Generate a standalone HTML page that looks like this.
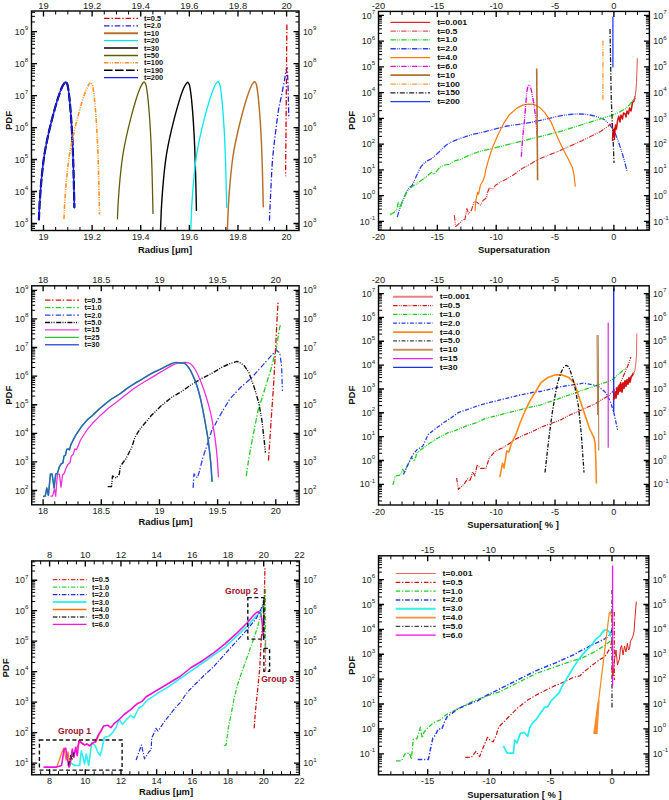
<!DOCTYPE html>
<html><head><meta charset="utf-8"><style>
html,body{margin:0;padding:0;background:#fff;}
svg{display:block;font-family:"Liberation Sans", sans-serif;}
</style></head><body>
<svg width="669" height="800" viewBox="0 0 669 800">
<rect width="669" height="800" fill="#fff"/>
<defs><clipPath id="c1"><rect x="31.5" y="11.0" width="267.50" height="219.50"/></clipPath><clipPath id="c2"><rect x="378.5" y="11.4" width="270.90" height="218.80"/></clipPath><clipPath id="c3"><rect x="31.7" y="285.8" width="267.40" height="219.00"/></clipPath><clipPath id="c4"><rect x="378.5" y="285.8" width="270.70" height="219.20"/></clipPath><clipPath id="c5"><rect x="31.7" y="560.9" width="267.70" height="213.90"/></clipPath><clipPath id="c6"><rect x="378.5" y="555.8" width="270.30" height="219.00"/></clipPath></defs>
<g clip-path="url(#c1)">
<path d="M38.89 220.30C39.01 217.63 39.18 210.97 39.60 204.30C40.02 197.63 40.67 188.13 41.40 180.30C42.13 172.47 42.98 164.30 44.00 157.30C45.02 150.30 46.17 144.63 47.50 138.30C48.83 131.97 50.42 125.47 52.00 119.30C53.58 113.13 55.42 106.47 57.00 101.30C58.58 96.13 60.17 91.47 61.50 88.30C62.83 85.13 64.17 83.20 65.00 82.30C65.83 81.40 66.07 82.40 66.50 82.90C66.93 83.40 67.18 83.40 67.60 85.30C68.02 87.20 68.57 90.80 69.00 94.30C69.43 97.80 69.80 101.63 70.20 106.30C70.60 110.97 71.00 115.97 71.40 122.30C71.80 128.63 72.23 135.63 72.60 144.30C72.97 152.97 73.32 164.30 73.60 174.30C73.88 184.30 74.18 198.93 74.30 204.30C74.42 209.67 74.33 206.13 74.34 206.50" stroke="#000" stroke-width="2.2" fill="none" stroke-linejoin="round" stroke-dasharray="8.6 2.4"/>
<path d="M38.89 220.30C39.01 217.63 39.18 210.97 39.60 204.30C40.02 197.63 40.67 188.13 41.40 180.30C42.13 172.47 42.98 164.30 44.00 157.30C45.02 150.30 46.17 144.63 47.50 138.30C48.83 131.97 50.42 125.47 52.00 119.30C53.58 113.13 55.42 106.47 57.00 101.30C58.58 96.13 60.17 91.47 61.50 88.30C62.83 85.13 64.17 83.20 65.00 82.30C65.83 81.40 66.07 82.40 66.50 82.90C66.93 83.40 67.18 83.40 67.60 85.30C68.02 87.20 68.57 90.80 69.00 94.30C69.43 97.80 69.80 101.63 70.20 106.30C70.60 110.97 71.00 115.97 71.40 122.30C71.80 128.63 72.23 135.63 72.60 144.30C72.97 152.97 73.32 164.30 73.60 174.30C73.88 184.30 74.18 198.93 74.30 204.30C74.42 209.67 74.33 206.13 74.34 206.50" stroke="#1a1aff" stroke-width="1.5" fill="none" stroke-linejoin="round"/>
<path d="M63.98 219.00C64.08 216.67 64.20 211.33 64.60 205.00C65.00 198.67 65.67 188.83 66.40 181.00C67.13 173.17 67.98 165.00 69.00 158.00C70.02 151.00 71.17 145.33 72.50 139.00C73.83 132.67 75.42 126.17 77.00 120.00C78.58 113.83 80.42 107.17 82.00 102.00C83.58 96.83 85.17 92.17 86.50 89.00C87.83 85.83 89.17 83.90 90.00 83.00C90.83 82.10 91.07 83.10 91.50 83.60C91.93 84.10 92.18 84.10 92.60 86.00C93.02 87.90 93.57 91.50 94.00 95.00C94.43 98.50 94.80 102.33 95.20 107.00C95.60 111.67 96.00 116.67 96.40 123.00C96.80 129.33 97.23 136.33 97.60 145.00C97.97 153.67 98.32 165.00 98.60 175.00C98.88 185.00 99.15 198.40 99.30 205.00C99.45 211.60 99.44 213.00 99.47 214.60" stroke="#ff9028" stroke-width="1.6" fill="none" stroke-linejoin="round" stroke-dasharray="4.5 1.3 1 1.3 1 1.3"/>
<path d="M117.44 219.20C117.55 216.72 117.69 210.78 118.10 204.30C118.51 197.82 119.17 188.13 119.90 180.30C120.63 172.47 121.48 164.30 122.50 157.30C123.52 150.30 124.67 144.63 126.00 138.30C127.33 131.97 128.92 125.47 130.50 119.30C132.08 113.13 133.92 106.47 135.50 101.30C137.08 96.13 138.67 91.47 140.00 88.30C141.33 85.13 142.67 83.20 143.50 82.30C144.33 81.40 144.57 82.40 145.00 82.90C145.43 83.40 145.68 83.40 146.10 85.30C146.52 87.20 147.07 90.80 147.50 94.30C147.93 97.80 148.30 101.63 148.70 106.30C149.10 110.97 149.50 115.97 149.90 122.30C150.30 128.63 150.73 135.63 151.10 144.30C151.47 152.97 151.82 164.30 152.10 174.30C152.38 184.30 152.65 197.68 152.80 204.30C152.95 210.92 152.94 212.38 152.97 214.00" stroke="#5e5c08" stroke-width="1.3" fill="none" stroke-linejoin="round"/>
<path d="M160.42 232.00C160.49 230.43 160.60 227.17 160.80 222.60C161.00 218.03 161.17 211.60 161.60 204.60C162.03 197.60 162.67 188.43 163.40 180.60C164.13 172.77 164.98 164.60 166.00 157.60C167.02 150.60 168.17 144.93 169.50 138.60C170.83 132.27 172.42 125.77 174.00 119.60C175.58 113.43 177.42 106.77 179.00 101.60C180.58 96.43 182.17 91.77 183.50 88.60C184.83 85.43 186.17 83.50 187.00 82.60C187.83 81.70 188.07 82.70 188.50 83.20C188.93 83.70 189.18 83.70 189.60 85.60C190.02 87.50 190.57 91.10 191.00 94.60C191.43 98.10 191.80 101.93 192.20 106.60C192.60 111.27 193.00 116.27 193.40 122.60C193.80 128.93 194.23 135.93 194.60 144.60C194.97 153.27 195.32 164.60 195.60 174.60C195.88 184.60 196.16 198.53 196.30 204.60C196.44 210.67 196.40 209.93 196.41 211.00" stroke="#000" stroke-width="1.4" fill="none" stroke-linejoin="round"/>
<path d="M190.70 232.00C190.76 230.32 190.90 226.58 191.10 221.90C191.30 217.22 191.47 210.90 191.90 203.90C192.33 196.90 192.97 187.73 193.70 179.90C194.43 172.07 195.28 163.90 196.30 156.90C197.32 149.90 198.47 144.23 199.80 137.90C201.13 131.57 202.72 125.07 204.30 118.90C205.88 112.73 207.72 106.07 209.30 100.90C210.88 95.73 212.47 91.07 213.80 87.90C215.13 84.73 216.47 82.80 217.30 81.90C218.13 81.00 218.37 82.00 218.80 82.50C219.23 83.00 219.48 83.00 219.90 84.90C220.32 86.80 220.87 90.40 221.30 93.90C221.73 97.40 222.10 101.23 222.50 105.90C222.90 110.57 223.30 115.57 223.70 121.90C224.10 128.23 224.53 135.23 224.90 143.90C225.27 152.57 225.62 163.90 225.90 173.90C226.18 183.90 226.47 198.38 226.60 203.90C226.73 209.42 226.65 206.48 226.66 207.00" stroke="#00e8f0" stroke-width="1.3" fill="none" stroke-linejoin="round"/>
<path d="M227.30 232.00C227.37 230.33 227.50 226.67 227.70 222.00C227.90 217.33 228.07 211.00 228.50 204.00C228.93 197.00 229.57 187.83 230.30 180.00C231.03 172.17 231.88 164.00 232.90 157.00C233.92 150.00 235.07 144.33 236.40 138.00C237.73 131.67 239.32 125.17 240.90 119.00C242.48 112.83 244.32 106.17 245.90 101.00C247.48 95.83 249.07 91.17 250.40 88.00C251.73 84.83 253.07 82.90 253.90 82.00C254.73 81.10 254.97 82.10 255.40 82.60C255.83 83.10 256.08 83.10 256.50 85.00C256.92 86.90 257.47 90.50 257.90 94.00C258.33 97.50 258.70 101.33 259.10 106.00C259.50 110.67 259.90 115.67 260.30 122.00C260.70 128.33 261.13 135.33 261.50 144.00C261.87 152.67 262.22 164.00 262.50 174.00C262.78 184.00 263.07 198.50 263.20 204.00C263.33 209.50 263.24 206.50 263.25 207.00" stroke="#b8722e" stroke-width="1.5" fill="none" stroke-linejoin="round"/>
<path d="M269.40 220.60C269.60 216.33 270.15 204.18 270.60 195.00C271.05 185.82 271.53 173.83 272.10 165.50C272.67 157.17 273.33 151.25 274.00 145.00C274.67 138.75 275.35 133.83 276.10 128.00C276.85 122.17 277.60 115.40 278.50 110.00C279.40 104.60 280.50 100.60 281.50 95.60C282.50 90.60 283.60 84.70 284.50 80.00C285.40 75.30 286.35 67.40 286.90 67.40C287.45 67.40 287.55 74.57 287.80 80.00C288.05 85.43 288.23 93.58 288.40 100.00C288.57 106.42 288.73 115.42 288.80 118.50" stroke="#2222ee" stroke-width="1.3" fill="none" stroke-linejoin="round" stroke-dasharray="5.5 2 1.3 2"/>
<path d="M286.9 24.4L285.6 176.3" stroke="#d80000" stroke-width="1.3" fill="none" stroke-linejoin="round" stroke-dasharray="5.5 2 1.3 2"/>
</g>
<path d="M104 18.40H138" stroke="#d80000" stroke-width="1.3" fill="none" stroke-linejoin="round" stroke-dasharray="5.5 2 1.3 2"/>
<text transform="translate(144,20.90) scale(1.12,1)" font-size="6.6" font-weight="bold" fill="#111">t=0.5</text>
<path d="M104 25.80H138" stroke="#2222ee" stroke-width="1.3" fill="none" stroke-linejoin="round" stroke-dasharray="5.5 2 1.3 2"/>
<text transform="translate(144,28.30) scale(1.12,1)" font-size="6.6" font-weight="bold" fill="#111">t=2.0</text>
<path d="M104 33.20H138" stroke="#b8722e" stroke-width="2.0" fill="none" stroke-linejoin="round"/>
<text transform="translate(144,35.70) scale(1.12,1)" font-size="6.6" font-weight="bold" fill="#111">t=10</text>
<path d="M104 40.60H138" stroke="#00e8f0" stroke-width="1.3" fill="none" stroke-linejoin="round"/>
<text transform="translate(144,43.10) scale(1.12,1)" font-size="6.6" font-weight="bold" fill="#111">t=20</text>
<path d="M104 48.00H138" stroke="#444" stroke-width="2.0" fill="none" stroke-linejoin="round"/>
<text transform="translate(144,50.50) scale(1.12,1)" font-size="6.6" font-weight="bold" fill="#111">t=30</text>
<path d="M104 55.40H138" stroke="#5e5c08" stroke-width="1.5" fill="none" stroke-linejoin="round"/>
<text transform="translate(144,57.90) scale(1.12,1)" font-size="6.6" font-weight="bold" fill="#111">t=50</text>
<path d="M104 62.80H138" stroke="#ff9028" stroke-width="1.4" fill="none" stroke-linejoin="round" stroke-dasharray="4.5 1.3 1 1.3 1 1.3"/>
<text transform="translate(144,65.30) scale(1.12,1)" font-size="6.6" font-weight="bold" fill="#111">t=100</text>
<path d="M104 70.20H138" stroke="#000" stroke-width="1.4" fill="none" stroke-linejoin="round" stroke-dasharray="8.6 2.4"/>
<text transform="translate(144,72.70) scale(1.12,1)" font-size="6.6" font-weight="bold" fill="#111">t=190</text>
<path d="M104 77.60H138" stroke="#1a1aff" stroke-width="1.4" fill="none" stroke-linejoin="round"/>
<text transform="translate(144,80.10) scale(1.12,1)" font-size="6.6" font-weight="bold" fill="#111">t=200</text>
<g clip-path="url(#c2)">
<path d="M397.20 217.10C397.80 215.20 399.53 209.23 400.80 205.70C402.07 202.17 403.45 198.88 404.80 195.90C406.15 192.92 407.68 189.55 408.90 187.80C410.12 186.05 410.75 187.57 412.10 185.40C413.45 183.23 415.50 177.92 417.00 174.80C418.50 171.68 419.60 168.87 421.10 166.70C422.60 164.53 424.23 163.17 426.00 161.80C427.77 160.43 429.67 160.00 431.70 158.50C433.73 157.00 436.32 154.55 438.20 152.80C440.08 151.05 441.38 149.48 443.00 148.00C444.62 146.52 446.00 145.12 447.90 143.90C449.80 142.68 451.95 141.73 454.40 140.70C456.85 139.67 459.88 138.65 462.60 137.70C465.32 136.75 468.13 135.73 470.70 135.00C473.27 134.27 474.98 134.02 478.00 133.30C481.02 132.58 483.88 131.92 488.80 130.70C493.72 129.48 501.25 127.25 507.50 126.00C513.75 124.75 520.05 124.30 526.30 123.20C532.55 122.10 539.38 120.63 545.00 119.40C550.62 118.17 555.83 116.62 560.00 115.80C564.17 114.98 566.62 114.80 570.00 114.50C573.38 114.20 576.97 113.92 580.30 114.00C583.63 114.08 586.63 114.33 590.00 115.00C593.37 115.67 597.83 117.00 600.50 118.00C603.17 119.00 604.12 119.42 606.00 121.00C607.88 122.58 610.30 125.50 611.80 127.50C613.30 129.50 613.88 130.58 615.00 133.00C616.12 135.42 617.17 138.17 618.50 142.00C619.83 145.83 621.58 151.18 623.00 156.00C624.42 160.82 626.33 168.42 627.00 170.90" stroke="#3040f0" stroke-width="1.3" fill="none" stroke-linejoin="round" stroke-dasharray="5.4 1.1 0.9 1.1 0.9 1.4"/>
<path d="M390.20 214.60C390.88 214.20 393.22 213.00 394.30 212.20C395.38 211.40 396.03 211.43 396.70 209.80C397.37 208.17 397.75 202.82 398.30 202.40C398.85 201.98 399.05 208.10 400.00 207.30C400.95 206.50 402.52 200.58 404.00 197.60C405.48 194.62 407.00 191.57 408.90 189.40C410.80 187.23 413.50 185.95 415.40 184.60C417.30 183.25 418.40 182.67 420.30 181.30C422.20 179.93 424.90 177.88 426.80 176.40C428.70 174.92 430.48 172.80 431.70 172.40C432.92 172.00 432.75 174.82 434.10 174.00C435.45 173.18 438.03 169.00 439.80 167.50C441.57 166.00 443.08 165.55 444.70 165.00C446.32 164.45 447.88 164.87 449.50 164.20C451.12 163.53 452.50 161.82 454.40 161.00C456.30 160.18 458.73 160.12 460.90 159.30C463.07 158.48 464.55 157.32 467.40 156.10C470.25 154.88 474.43 153.12 478.00 152.00C481.57 150.88 483.88 150.62 488.80 149.40C493.72 148.18 501.25 146.27 507.50 144.70C513.75 143.13 520.05 141.57 526.30 140.00C532.55 138.43 539.38 136.72 545.00 135.30C550.62 133.88 555.83 132.67 560.00 131.50C564.17 130.33 566.25 129.47 570.00 128.30C573.75 127.13 578.33 125.80 582.50 124.50C586.67 123.20 591.25 121.67 595.00 120.50C598.75 119.33 602.28 118.33 605.00 117.50C607.72 116.67 608.80 116.45 611.30 115.50C613.80 114.55 617.30 113.22 620.00 111.80C622.70 110.38 625.42 108.80 627.50 107.00C629.58 105.20 631.25 102.78 632.50 101.00C633.75 99.22 634.58 97.08 635.00 96.30" stroke="#22d022" stroke-width="1.3" fill="none" stroke-linejoin="round" stroke-dasharray="5.4 1.1 0.9 1.1 0.9 1.4"/>
<path d="M454.30 215.30L455.70 226.50L457.90 224.70L461.50 221.10L465.10 218.90L466.90 208.60L468.70 214.00L471.40 210.40L474.10 201.40L476.80 202.30L480.40 205.00L483.00 200.50L486.60 197.80L487.50 192.40L489.30 188.00L492.90 188.80L495.60 185.20L500.00 182.30L507.50 178.50L515.00 173.80L522.50 168.20L530.00 164.40L537.50 159.70L548.80 155.00L560.00 150.60L582.50 140.50L600.50 131.50L611.80 123.60" stroke="#d43030" stroke-width="1.2" fill="none" stroke-linejoin="round" stroke-dasharray="5.4 1.1 0.9 1.1 0.9 1.4"/>
<path d="M475.00 211.30L475.90 199.60L477.70 192.40L478.60 194.20L480.40 185.20L483.00 180.80L484.80 175.40L485.70 170.00L488.80 158.80L492.50 147.50L498.10 134.40L503.80 123.20L509.40 114.70L516.90 108.10L522.70 105.10L528.00 104.20L533.80 104.40L539.40 107.20L545.00 112.80L550.70 121.30L556.30 134.40L560.00 142.80L563.50 150.00L566.80 156.30L570.00 162.60L572.40 167.50L574.00 175.00L575.30 186.60" stroke="#ff7a10" stroke-width="1.2" fill="none" stroke-linejoin="round"/>
<path d="M521.30 156.70C521.53 153.50 522.17 143.62 522.70 137.50C523.23 131.38 523.97 125.83 524.50 120.00C525.03 114.17 525.47 107.47 525.90 102.50C526.33 97.53 526.60 93.12 527.10 90.20C527.60 87.28 528.32 85.43 528.90 85.00C529.48 84.57 530.02 85.85 530.60 87.60C531.18 89.35 531.82 92.43 532.40 95.50C532.98 98.57 533.52 101.92 534.10 106.00C534.68 110.08 535.37 115.00 535.90 120.00C536.43 125.00 537.07 133.33 537.30 136.00" stroke="#e010e0" stroke-width="1.4" fill="none" stroke-linejoin="round" stroke-dasharray="5.4 1.1 0.9 1.1 0.9 1.4"/>
<path d="M536.7 68.4L537.6 180.3" stroke="#b0702c" stroke-width="1.6" fill="none" stroke-linejoin="round"/>
<path d="M602.9 40.4V100.8" stroke="#ffa040" stroke-width="1.4" fill="none" stroke-linejoin="round" stroke-dasharray="5.4 1.1 0.9 1.1 0.9 1.4"/>
<path d="M610 29.1L611.3 100L613.5 148.8L614 163" stroke="#222" stroke-width="1.3" fill="none" stroke-linejoin="round" stroke-dasharray="5 1.6 1.2 1.6"/>
<path d="M612.9 16.8V67.4" stroke="#2040ff" stroke-width="1.3" fill="none" stroke-linejoin="round"/>
<path d="M612.50 141.00L613.00 131.00L614.00 136.00L615.60 125.00L616.50 129.00L617.50 121.00L618.80 116.30L620.00 122.00L621.00 115.00L622.50 119.00L623.50 113.00L625.00 113.80L626.00 117.00L627.00 111.00L628.50 114.00L629.50 108.00L631.00 111.00L632.50 102.50L634.00 101.00L635.00 97.50" stroke="#d41010" stroke-width="1.5" fill="none" stroke-linejoin="round"/>
<path d="M634.00 101.00L635.00 97.50L636.00 90.00L636.50 82.50L637.00 70.00L637.30 58.10" stroke="#e45050" stroke-width="1.0" fill="none" stroke-linejoin="round"/>
<path d="M612 127L614 131L613 137L615 128L614.5 140" stroke="#cc0000" stroke-width="1.2" fill="none" stroke-linejoin="round"/>
</g>
<path d="M390.4 22.30H430.1" stroke="#e02828" stroke-width="1.2" fill="none" stroke-linejoin="round"/>
<text transform="translate(437.2,24.80) scale(1.1,1)" font-size="8.0" font-weight="bold" fill="#111">t=0.001</text>
<path d="M390.4 31.12H430.1" stroke="#e05a5a" stroke-width="1.3" fill="none" stroke-linejoin="round" stroke-dasharray="5.4 1.1 0.9 1.1 0.9 1.4"/>
<text transform="translate(437.2,33.62) scale(1.1,1)" font-size="8.0" font-weight="bold" fill="#111">t=0.5</text>
<path d="M390.4 39.94H430.1" stroke="#22d022" stroke-width="1.3" fill="none" stroke-linejoin="round" stroke-dasharray="5.4 1.1 0.9 1.1 0.9 1.4"/>
<text transform="translate(437.2,42.44) scale(1.1,1)" font-size="8.0" font-weight="bold" fill="#111">t=1.0</text>
<path d="M390.4 48.76H430.1" stroke="#3040f0" stroke-width="1.3" fill="none" stroke-linejoin="round" stroke-dasharray="5.4 1.1 0.9 1.1 0.9 1.4"/>
<text transform="translate(437.2,51.26) scale(1.1,1)" font-size="8.0" font-weight="bold" fill="#111">t=2.0</text>
<path d="M390.4 57.58H430.1" stroke="#ff7a10" stroke-width="1.2" fill="none" stroke-linejoin="round"/>
<text transform="translate(437.2,60.08) scale(1.1,1)" font-size="8.0" font-weight="bold" fill="#111">t=4.0</text>
<path d="M390.4 66.40H430.1" stroke="#e010e0" stroke-width="1.3" fill="none" stroke-linejoin="round" stroke-dasharray="5.4 1.1 0.9 1.1 0.9 1.4"/>
<text transform="translate(437.2,68.90) scale(1.1,1)" font-size="8.0" font-weight="bold" fill="#111">t=6.0</text>
<path d="M390.4 75.22H430.1" stroke="#b0702c" stroke-width="1.8" fill="none" stroke-linejoin="round"/>
<text transform="translate(437.2,77.72) scale(1.1,1)" font-size="8.0" font-weight="bold" fill="#111">t=10</text>
<path d="M390.4 84.04H430.1" stroke="#ffa040" stroke-width="1.3" fill="none" stroke-linejoin="round" stroke-dasharray="5.4 1.1 0.9 1.1 0.9 1.4"/>
<text transform="translate(437.2,86.54) scale(1.1,1)" font-size="8.0" font-weight="bold" fill="#111">t=100</text>
<path d="M390.4 92.86H430.1" stroke="#222" stroke-width="1.3" fill="none" stroke-linejoin="round" stroke-dasharray="5 1.6 1.2 1.6"/>
<text transform="translate(437.2,95.36) scale(1.1,1)" font-size="8.0" font-weight="bold" fill="#111">t=150</text>
<path d="M390.4 101.68H430.1" stroke="#2040ff" stroke-width="1.3" fill="none" stroke-linejoin="round"/>
<text transform="translate(437.2,104.18) scale(1.1,1)" font-size="8.0" font-weight="bold" fill="#111">t=200</text>
<g clip-path="url(#c3)">
<path d="M107.70 486.60L111.50 486.60L112.50 476.00L116.40 477.90L119.30 474.00L120.30 466.30L126.10 458.50L131.90 446.90L135.00 437.20L140.30 428.70L150.60 416.30L160.90 406.00L171.20 397.70L181.50 391.50L191.90 384.30L202.20 378.10L212.50 373.00L222.80 366.80L230.00 363.70L237.00 361.30L243.60 364.80L248.90 372.60L254.10 387.00L258.80 402.80L262.00 421.10L264.10 439.50L265.40 452.60" stroke="#111" stroke-width="1.4" fill="none" stroke-linejoin="round" stroke-dasharray="5 1.3 1 1.3 1 1.6"/>
<path d="M193.10 487.90L194.00 473.90L197.50 478.00L200.10 468.60L202.70 458.10L206.20 447.70L209.70 437.20L212.30 428.40L215.00 424.90L218.50 417.90L223.70 409.20L230.00 398.70L241.00 387.00L251.50 377.90L262.00 366.10L272.50 354.30L276.40 350.30L279.80 353.00L281.60 366.10L282.40 391.00" stroke="#3040f0" stroke-width="1.3" fill="none" stroke-linejoin="round" stroke-dasharray="5.4 1.6 1.4 2.3"/>
<path d="M50.40 496.10L52.50 496.10L54.50 488.80L55.70 496.10L57.40 474.10L59.40 474.10L61.00 487.20L62.60 475.00L64.30 473.30L65.90 468.50L67.90 464.40L70.00 462.80L71.20 456.30L73.20 454.60L74.80 448.90L76.50 449.80L78.50 444.90L80.50 440.00L83.00 436.00L87.30 429.50L93.10 422.70L100.90 414.90L108.60 408.10L116.40 402.30L126.10 394.60L126.10 394.60C127.58 393.47 132.63 389.52 135.00 387.80C137.37 386.08 137.70 385.92 140.30 384.30C142.90 382.68 147.17 380.17 150.60 378.10C154.03 376.03 157.47 373.95 160.90 371.90C164.33 369.85 168.35 367.25 171.20 365.80C174.05 364.35 175.67 363.78 178.00 363.20C180.33 362.62 183.12 362.22 185.20 362.30C187.28 362.38 188.88 362.58 190.50 363.70C192.12 364.82 193.45 366.67 194.90 369.00C196.35 371.33 197.90 374.78 199.20 377.70C200.50 380.62 201.53 383.28 202.70 386.50C203.87 389.72 205.03 393.22 206.20 397.00C207.37 400.78 208.68 405.13 209.70 409.20C210.72 413.27 211.48 417.03 212.30 421.40C213.12 425.77 213.92 430.73 214.60 435.40C215.28 440.07 215.90 444.73 216.40 449.40C216.90 454.07 217.25 458.73 217.60 463.40C217.95 468.07 218.35 475.07 218.50 477.40" stroke="#ee30dd" stroke-width="1.3" fill="none" stroke-linejoin="round"/>
<path d="M43.10 496.50L45.20 496.10L46.80 488.00L48.40 495.30L50.40 474.10L52.10 474.10L54.10 488.00L55.70 474.10L57.40 473.30L59.40 466.80L61.00 464.00L63.00 462.80L63.90 456.30L65.50 455.00L66.70 449.30L68.30 449.00L69.50 449.80L70.80 444.90L73.20 440.00L75.70 435.30L81.50 426.60L87.30 419.80L93.10 414.90L99.00 409.10L104.80 404.30L104.80 404.30C106.08 403.32 109.92 400.18 112.50 398.40C115.08 396.62 117.72 395.37 120.30 393.60C122.88 391.83 125.55 389.52 128.00 387.80C130.45 386.08 132.95 384.57 135.00 383.30C137.05 382.03 137.70 381.75 140.30 380.20C142.90 378.65 147.17 375.88 150.60 374.00C154.03 372.12 157.47 370.62 160.90 368.90C164.33 367.18 168.70 364.77 171.20 363.70C173.70 362.63 174.43 362.63 175.90 362.50C177.37 362.37 178.45 362.70 180.00 362.90C181.55 363.10 183.60 362.68 185.20 363.70C186.80 364.72 188.28 366.95 189.60 369.00C190.92 371.05 191.93 373.38 193.10 376.00C194.27 378.62 195.43 381.20 196.60 384.70C197.77 388.20 199.08 392.92 200.10 397.00C201.12 401.08 201.83 404.83 202.70 409.20C203.57 413.57 204.42 418.25 205.30 423.20C206.18 428.15 207.27 433.95 208.00 438.90C208.73 443.85 209.18 448.23 209.70 452.90C210.22 457.57 210.72 462.10 211.10 466.90C211.48 471.70 211.85 479.23 212.00 481.70" stroke="#33aa55" stroke-width="1.6" fill="none" stroke-linejoin="round"/>
<path d="M43.10 496.50L45.20 496.10L46.80 488.00L48.40 495.30L50.40 474.10L52.10 474.10L54.10 488.00L55.70 474.10L57.40 473.30L59.40 466.80L61.00 464.00L63.00 462.80L63.90 456.30L65.50 455.00L66.70 449.30L68.30 449.00L69.50 449.80L70.80 444.90L73.20 440.00L75.70 435.30L81.50 426.60L87.30 419.80L93.10 414.90L99.00 409.10L104.80 404.30L104.80 404.30C106.08 403.32 109.92 400.18 112.50 398.40C115.08 396.62 117.72 395.37 120.30 393.60C122.88 391.83 125.55 389.52 128.00 387.80C130.45 386.08 132.95 384.57 135.00 383.30C137.05 382.03 137.70 381.75 140.30 380.20C142.90 378.65 147.17 375.88 150.60 374.00C154.03 372.12 157.47 370.62 160.90 368.90C164.33 367.18 168.70 364.77 171.20 363.70C173.70 362.63 174.43 362.63 175.90 362.50C177.37 362.37 178.45 362.70 180.00 362.90C181.55 363.10 183.60 362.68 185.20 363.70C186.80 364.72 188.28 366.95 189.60 369.00C190.92 371.05 191.93 373.38 193.10 376.00C194.27 378.62 195.43 381.20 196.60 384.70C197.77 388.20 199.08 392.92 200.10 397.00C201.12 401.08 201.83 404.83 202.70 409.20C203.57 413.57 204.42 418.25 205.30 423.20C206.18 428.15 207.27 433.95 208.00 438.90C208.73 443.85 209.18 448.23 209.70 452.90C210.22 457.57 210.72 462.10 211.10 466.90C211.48 471.70 211.85 479.23 212.00 481.70" stroke="#3358d8" stroke-width="1.15" fill="none" stroke-linejoin="round"/>
<path d="M246.20 476.20L248.90 457.90L252.80 436.90L258.00 410.70L264.60 389.70L271.10 368.70L276.40 347.70L279.80 326.70L280.90 324.10" stroke="#22cc22" stroke-width="1.3" fill="none" stroke-linejoin="round" stroke-dasharray="5.4 1.6 1.4 2.3"/>
<path d="M268.50 460.50L271.10 421.10L273.80 381.80L275.90 342.50L277.20 316.20L278.20 300.50" stroke="#d01010" stroke-width="1.3" fill="none" stroke-linejoin="round" stroke-dasharray="5.4 1.6 1.4 2.3"/>
</g>
<path d="M45 300.20H78.9" stroke="#dd1010" stroke-width="1.3" fill="none" stroke-linejoin="round" stroke-dasharray="5.4 1.6 1.4 2.3"/>
<text transform="translate(84.5,302.70) scale(1.12,1)" font-size="6.6" font-weight="bold" fill="#111">t=0.5</text>
<path d="M45 307.63H78.9" stroke="#30d030" stroke-width="1.3" fill="none" stroke-linejoin="round" stroke-dasharray="5.4 1.6 1.4 2.3"/>
<text transform="translate(84.5,310.13) scale(1.12,1)" font-size="6.6" font-weight="bold" fill="#111">t=1.0</text>
<path d="M45 315.06H78.9" stroke="#3040f0" stroke-width="1.3" fill="none" stroke-linejoin="round" stroke-dasharray="5.4 1.6 1.4 2.3"/>
<text transform="translate(84.5,317.56) scale(1.12,1)" font-size="6.6" font-weight="bold" fill="#111">t=2.0</text>
<path d="M45 322.49H78.9" stroke="#111" stroke-width="1.3" fill="none" stroke-linejoin="round" stroke-dasharray="5 1.3 1 1.3 1 1.6"/>
<text transform="translate(84.5,324.99) scale(1.12,1)" font-size="6.6" font-weight="bold" fill="#111">t=5.0</text>
<path d="M45 329.92H78.9" stroke="#f040e0" stroke-width="1.4" fill="none" stroke-linejoin="round"/>
<text transform="translate(84.5,332.42) scale(1.12,1)" font-size="6.6" font-weight="bold" fill="#111">t=15</text>
<path d="M45 337.35H78.9" stroke="#30c030" stroke-width="1.1" fill="none" stroke-linejoin="round"/>
<text transform="translate(84.5,339.85) scale(1.12,1)" font-size="6.6" font-weight="bold" fill="#111">t=25</text>
<path d="M45 344.78H78.9" stroke="#4060e0" stroke-width="1.6" fill="none" stroke-linejoin="round"/>
<text transform="translate(84.5,347.28) scale(1.12,1)" font-size="6.6" font-weight="bold" fill="#111">t=30</text>
<g clip-path="url(#c4)">
<path d="M393.00 484.90L395.20 476.00L400.40 475.20L402.70 469.20L404.50 472.50L407.10 466.20L411.60 457.30L414.60 461.00L416.90 452.80L422.80 448.30L428.80 443.80L434.80 440.10L440.80 436.30L448.30 432.60L455.70 430.40L464.70 426.60L478.00 422.10L485.00 418.60L502.50 414.20L520.00 409.80L537.40 405.50L540.00 405.10L567.50 395.50L595.00 385.90L611.50 380.40L622.50 370.80L625.80 368.00" stroke="#22cc22" stroke-width="1.3" fill="none" stroke-linejoin="round" stroke-dasharray="4.5 1.1 0.9 1.1 0.9 1.3"/>
<path d="M403.40 474.50L407.90 464.70L413.10 454.30L416.90 449.80L422.80 446.00L428.10 434.80L433.30 430.40L442.30 423.60L451.20 417.70L458.70 412.40L467.70 409.40L478.00 405.70L485.00 403.70L502.50 399.30L520.00 395.00L537.40 391.50L540.00 391.50L562.00 386.50L584.00 383.10L597.80 385.90L606.00 392.80L610.10 401.00L613.70 412.00L617.60 429.90" stroke="#2b3cf0" stroke-width="1.3" fill="none" stroke-linejoin="round" stroke-dasharray="4 1.6 1.2 1.6"/>
<path d="M456.60 478.00L458.40 489.40L464.00 484.20L467.50 478.90L470.00 481.00L472.70 471.90L475.00 476.00L477.10 464.90L480.60 468.40L485.90 468.40L489.30 457.90L495.50 450.90L501.60 448.30L507.70 444.80L514.70 439.60L523.50 435.20L532.20 431.70L542.70 426.50L560.00 420.30L567.50 416.10L595.00 403.80L608.80 395.50L619.80 384.50L628.00 365.30L630.80 357.00" stroke="#cc1818" stroke-width="1.2" fill="none" stroke-linejoin="round" stroke-dasharray="4.5 1.1 0.9 1.1 0.9 1.3"/>
<path d="M499.80 477.20L502.50 463.20L504.00 468.00L506.80 450.90L509.00 452.00L511.20 443.90L515.60 435.20L520.00 423.00L525.20 410.70L530.40 400.20L535.70 391.50L540.90 382.70L547.90 377.50L554.90 374.90L562.00 374.90L568.90 377.60L574.40 383.10L578.50 395.50L584.00 412.00L589.50 428.50L593.60 436.80L595.00 442.30L595.80 458.80L596.40 483.50" stroke="#ff8a1a" stroke-width="1.6" fill="none" stroke-linejoin="round"/>
<path d="M545.00 472.50L548.80 438.70L552.30 412.50L555.10 395.50L557.60 382.70L560.60 373.50L563.50 367.50L566.10 365.30L568.50 366.50L570.30 370.80L574.40 384.50L578.50 406.50L581.30 434.00L584.00 472.50" stroke="#111" stroke-width="1.3" fill="none" stroke-linejoin="round" stroke-dasharray="4 1.6 1.2 1.6"/>
<path d="M597 335L597.6 415M598.2 335L598.8 450.5" stroke="#a86a30" stroke-width="0.9" fill="none" stroke-linejoin="round"/>
<path d="M608.2 322.6V447.8" stroke="#d030d8" stroke-width="1.2" fill="none" stroke-linejoin="round"/>
<path d="M613.7 288.3V412" stroke="#2233ee" stroke-width="1.4" fill="none" stroke-linejoin="round"/>
<path d="M613.50 400.00L614.40 397.50L615.20 392.00L616.00 398.00L617.00 388.00L618.00 394.00L619.00 386.00L620.00 391.00L621.00 384.00L622.00 392.00L623.00 383.00L624.00 388.00L625.00 381.00L626.00 386.00L627.00 380.00L628.00 384.00L629.00 378.00L630.00 382.00L631.00 377.00L632.50 375.00L633.80 372.50" stroke="#d41010" stroke-width="1.8" fill="none" stroke-linejoin="round"/>
<path d="M633.00 374.00L634.90 370.80L636.00 362.00L636.50 355.00L636.80 333.60" stroke="#e87070" stroke-width="1.1" fill="none" stroke-linejoin="round"/>
</g>
<path d="M393.1 296.70H432.8" stroke="#e88080" stroke-width="2.0" fill="none" stroke-linejoin="round"/>
<text transform="translate(439.8,299.20) scale(1.1,1)" font-size="8.0" font-weight="bold" fill="#111">t=0.001</text>
<path d="M393.1 305.54H432.8" stroke="#dd1010" stroke-width="1.2" fill="none" stroke-linejoin="round" stroke-dasharray="4.5 1.1 0.9 1.1 0.9 1.3"/>
<text transform="translate(439.8,308.04) scale(1.1,1)" font-size="8.0" font-weight="bold" fill="#111">t=0.5</text>
<path d="M393.1 314.38H432.8" stroke="#20cc20" stroke-width="1.2" fill="none" stroke-linejoin="round" stroke-dasharray="4.5 1.1 0.9 1.1 0.9 1.3"/>
<text transform="translate(439.8,316.88) scale(1.1,1)" font-size="8.0" font-weight="bold" fill="#111">t=1.0</text>
<path d="M393.1 323.22H432.8" stroke="#2b3cf0" stroke-width="1.2" fill="none" stroke-linejoin="round" stroke-dasharray="4 1.6 1.2 1.6"/>
<text transform="translate(439.8,325.72) scale(1.1,1)" font-size="8.0" font-weight="bold" fill="#111">t=2.0</text>
<path d="M393.1 332.06H432.8" stroke="#ff8c20" stroke-width="1.8" fill="none" stroke-linejoin="round"/>
<text transform="translate(439.8,334.56) scale(1.1,1)" font-size="8.0" font-weight="bold" fill="#111">t=4.0</text>
<path d="M393.1 340.90H432.8" stroke="#444" stroke-width="1.4" fill="none" stroke-linejoin="round" stroke-dasharray="4 1.6 1.2 1.6"/>
<text transform="translate(439.8,343.40) scale(1.1,1)" font-size="8.0" font-weight="bold" fill="#111">t=5.0</text>
<path d="M393.1 349.74H432.8" stroke="#c89060" stroke-width="1.8" fill="none" stroke-linejoin="round"/>
<text transform="translate(439.8,352.24) scale(1.1,1)" font-size="8.0" font-weight="bold" fill="#111">t=10</text>
<path d="M393.1 358.58H432.8" stroke="#ee22ee" stroke-width="1.3" fill="none" stroke-linejoin="round"/>
<text transform="translate(439.8,361.08) scale(1.1,1)" font-size="8.0" font-weight="bold" fill="#111">t=15</text>
<path d="M393.1 367.42H432.8" stroke="#1a30f0" stroke-width="1.4" fill="none" stroke-linejoin="round"/>
<text transform="translate(439.8,369.92) scale(1.1,1)" font-size="8.0" font-weight="bold" fill="#111">t=30</text>
<g clip-path="url(#c5)">
<path d="M69.80 762.20L74.70 765.50L79.70 765.50L81.30 750.70L84.60 763.90L86.30 754.00L88.70 765.50L90.40 752.30L92.00 742.50L95.30 745.80L97.80 752.30L100.20 755.60L101.90 749.10L104.30 737.50L109.30 735.90L112.60 732.60L115.90 727.70L119.10 719.50L122.40 724.40L126.50 719.50L130.70 715.40L133.90 717.80L138.90 708.00L142.00 706.30L146.20 701.20L157.50 693.30L168.70 686.60L180.00 678.70L202.50 663.00L225.00 647.20L247.50 625.90L256.50 615.70L259.80 612.40L262.00 611.50" stroke="#30eef0" stroke-width="1.6" fill="none" stroke-linejoin="round"/>
<path d="M56.70 767.10L60.00 758.00L62.00 752.00L64.00 748.00L66.00 760.00L68.00 752.00L70.00 766.00L72.00 752.00L74.00 754.00L76.00 749.00L78.00 745.00L80.00 742.00L84.00 745.00L87.00 744.00L90.00 746.00L93.00 743.00L96.00 742.00L99.00 735.00L101.00 730.00L103.50 727.00" stroke="#ff8020" stroke-width="1.3" fill="none" stroke-linejoin="round"/>
<path d="M43.50 767.10L56.70 767.10L61.60 765.50L64.10 749.10L65.70 748.20L67.40 758.90L69.00 767.10L70.60 760.60L72.30 749.10L73.90 757.30L75.60 747.40L77.20 755.60L78.90 740.80L81.30 742.50L84.60 744.90L87.10 744.10L89.50 745.80L92.00 743.30L95.30 741.70L98.60 734.30L101.10 731.00L103.50 726.00L107.60 725.20L110.90 727.70L114.20 723.60L119.10 719.50L124.10 714.50L130.70 709.60L135.00 705.70L137.20 703.80L142.00 701.40L146.20 696.70L157.50 690.00L168.70 683.20L180.00 676.50L191.20 667.50L202.50 660.70L213.70 652.90L225.00 643.90L236.20 633.70L247.50 622.50L254.20 614.60L256.50 612.50L258.30 611.70L260.00 612.50L261.00 614.50L262.10 622.50L262.80 630.00L263.20 636.00" stroke="#ee10dd" stroke-width="1.6" fill="none" stroke-linejoin="round"/>
<path d="M68.20 765.50L70.60 755.60L72.00 760.00L74.00 752.00" stroke="#222" stroke-width="1.3" fill="none" stroke-linejoin="round" stroke-dasharray="4.6 1.6 1.2 1.6"/>
<path d="M136.10 760.00L141.50 745.00L144.50 758.80L148.70 752.20L151.10 749.80L151.70 737.80L154.70 731.90L155.90 728.30L158.00 731.00L160.70 727.10L163.10 723.50L166.70 718.70L171.40 712.70L176.20 706.70L181.00 702.00L184.60 696.00L189.40 690.00L202.50 677.00L213.70 666.50L225.00 654.00L236.20 641.50L247.50 629.20L256.50 618.00L261.00 609.00L263.50 602.00L264.60 598.00" stroke="#2030d8" stroke-width="1.2" fill="none" stroke-linejoin="round" stroke-dasharray="4.6 1.6 1.2 1.6"/>
<path d="M223.80 745.70L226.10 745.10L228.30 728.20L230.60 717.00L234.00 699.00L237.30 685.50L241.80 672.00L247.50 656.20L253.10 640.50L257.60 627.00L261.00 613.50L264.30 600.00L265.20 590.00" stroke="#33cc33" stroke-width="1.3" fill="none" stroke-linejoin="round" stroke-dasharray="4.6 1.6 1.2 1.6"/>
<path d="M265.3 589V650" stroke="#33cc33" stroke-width="1.6" fill="none" stroke-linejoin="round" stroke-dasharray="4.6 1.6 1.2 1.6"/>
<path d="M254.20 728.20L255.30 712.50L257.60 690.00L259.80 667.50L261.20 640.00L262.10 630.00L263.70 622.50L265.00 567.00" stroke="#cc1818" stroke-width="1.3" fill="none" stroke-linejoin="round" stroke-dasharray="4.6 1.6 1.2 1.6"/>
<path d="M265.6 640V672" stroke="#e07070" stroke-width="1.2" fill="none" stroke-linejoin="round" stroke-dasharray="4.6 1.6 1.2 1.6"/>
<path d="M263.6 600V640" stroke="#1a1a60" stroke-width="1.5" fill="none" stroke-linejoin="round" stroke-dasharray="4.6 1.6 1.2 1.6"/>
</g>
<path d="M39.4 740H122.1V770.1H39.4Z M247.8 597.6H263.9V639.1H247.8Z M263.9 648.4H269.6V671.2H263.9Z" stroke="#111" stroke-width="1.4" fill="none" stroke-dasharray="4 2.6"/>
<text x="58" y="733.5" font-size="8.6" font-weight="bold" fill="#a0102a">Group 1</text>
<text x="225" y="593.6" font-size="8.6" font-weight="bold" fill="#a0102a">Group 2</text>
<text x="261.2" y="681.7" font-size="8.6" font-weight="bold" fill="#a0102a">Group 3</text>
<path d="M52.8 579.60H86.6" stroke="#e03030" stroke-width="1.3" fill="none" stroke-linejoin="round" stroke-dasharray="4.6 1.6 1.2 1.6"/>
<text transform="translate(92,582.10) scale(1.12,1)" font-size="6.6" font-weight="bold" fill="#111">t=0.5</text>
<path d="M52.8 587.07H86.6" stroke="#40d040" stroke-width="1.3" fill="none" stroke-linejoin="round" stroke-dasharray="4.6 1.6 1.2 1.6"/>
<text transform="translate(92,589.57) scale(1.12,1)" font-size="6.6" font-weight="bold" fill="#111">t=1.0</text>
<path d="M52.8 594.54H86.6" stroke="#2030e0" stroke-width="1.2" fill="none" stroke-linejoin="round" stroke-dasharray="4.6 1.6 1.2 1.6"/>
<text transform="translate(92,597.04) scale(1.12,1)" font-size="6.6" font-weight="bold" fill="#111">t=2.0</text>
<path d="M52.8 602.01H86.6" stroke="#40f0f0" stroke-width="2.0" fill="none" stroke-linejoin="round"/>
<text transform="translate(92,604.51) scale(1.12,1)" font-size="6.6" font-weight="bold" fill="#111">t=3.0</text>
<path d="M52.8 609.48H86.6" stroke="#ff7010" stroke-width="1.3" fill="none" stroke-linejoin="round"/>
<text transform="translate(92,611.98) scale(1.12,1)" font-size="6.6" font-weight="bold" fill="#111">t=4.0</text>
<path d="M52.8 616.95H86.6" stroke="#444" stroke-width="1.5" fill="none" stroke-linejoin="round" stroke-dasharray="4.6 1.6 1.2 1.6"/>
<text transform="translate(92,619.45) scale(1.12,1)" font-size="6.6" font-weight="bold" fill="#111">t=5.0</text>
<path d="M52.8 624.42H86.6" stroke="#ff10e0" stroke-width="1.4" fill="none" stroke-linejoin="round"/>
<text transform="translate(92,626.92) scale(1.12,1)" font-size="6.6" font-weight="bold" fill="#111">t=6.0</text>
<g clip-path="url(#c6)">
<path d="M396.10 760.90L401.50 760.90L405.10 753.70L409.60 753.10L411.40 759.40L413.20 739.70L416.80 738.80L418.50 734.00L420.40 727.10L422.20 737.90L423.90 732.50L428.40 727.10L433.80 722.60L440.10 720.00L446.40 714.60L451.70 711.90L458.90 708.30L466.10 704.70L473.30 701.10L480.40 698.40L487.60 695.70L498.80 692.20L517.50 682.80L536.30 673.40L555.00 666.90L573.80 660.30L580.00 659.00L593.50 652.30L604.80 645.50L610.40 641.00" stroke="#22cc22" stroke-width="1.3" fill="none" stroke-linejoin="round" stroke-dasharray="4.6 1.8 1.2 1.8"/>
<path d="M417.70 759.40L428.40 759.40L430.20 750.40L432.90 737.90L435.50 735.00L438.30 728.90L441.90 728.90L444.50 722.00L447.30 716.40L451.70 713.70L457.10 709.20L462.00 707.00L469.70 703.80L478.70 700.20L487.60 694.80L498.80 689.40L517.50 680.00L536.30 670.60L555.00 663.10L573.80 654.70L580.00 651.20L593.50 644.40L604.80 638.80L610.40 634.30L612.00 630.00" stroke="#2b3cf0" stroke-width="1.5" fill="none" stroke-linejoin="round" stroke-dasharray="4.6 1.8 1.2 1.8"/>
<path d="M465.20 757.30L471.50 757.30L476.00 751.30L479.60 756.70L483.10 747.80L487.50 737.20L490.00 740.00L493.10 741.90L495.90 736.30L498.80 726.90L504.40 721.30L510.00 715.60L517.50 708.10L526.90 700.60L536.30 695.00L545.60 690.30L555.00 685.60L564.40 681.90L573.80 677.20L580.00 675.90L583.10 672.50L592.50 665.00L600.00 659.40L604.80 656.80L610.40 647.80L612.60 636.50" stroke="#cc1818" stroke-width="1.2" fill="none" stroke-linejoin="round" stroke-dasharray="4.6 1.8 1.2 1.8"/>
<path d="M503.40 746.00L507.20 753.10L513.40 753.10L514.70 740.00L517.00 743.00L520.30 733.40L524.10 732.50L527.80 736.30L529.70 727.80L532.50 723.10L536.30 719.40L540.00 713.80L544.70 707.20L547.50 707.00L551.30 700.60L558.80 693.10L562.50 685.60L568.10 676.30L573.80 666.90L579.40 658.40L585.00 651.90L591.30 645.50L596.00 639.00L600.00 635.90L602.50 632.00L605.00 630.00L607.00 629.80L609.30 632.00L610.40 636.50" stroke="#22eef0" stroke-width="1.7" fill="none" stroke-linejoin="round"/>
<path d="M594.6 733.3L609.3 612.9L610.4 611.8L612.3 620" stroke="#ff8a2a" stroke-width="1.25" fill="none" stroke-linejoin="round"/>
<path d="M593.2 734L597.6 734L599.6 700L597.5 702Z" fill="#ff8a2a"/>
<path d="M614.3 612V680" stroke="#cc1818" stroke-width="1.2" fill="none" stroke-linejoin="round" stroke-dasharray="4.6 1.8 1.2 1.8"/>
<path d="M612 590V708.5" stroke="#333" stroke-width="1.3" fill="none" stroke-linejoin="round" stroke-dasharray="4.6 1.8 1.2 1.8"/>
<path d="M612.6 565.6V686" stroke="#ee10ee" stroke-width="1.3" fill="none" stroke-linejoin="round"/>
<path d="M611.50 668.00L613.00 676.00L614.50 660.00L616.00 650.00L617.50 665.00L619.40 659.00L620.50 648.00L621.60 645.50L623.00 655.00L624.50 646.00L626.00 652.00L627.30 643.30L628.50 650.00L629.50 648.90L630.50 641.00L631.80 638.80L633.00 636.00L634.00 632.00L635.10 616.30L636.30 601.60" stroke="#dd2020" stroke-width="1.0" fill="none" stroke-linejoin="round"/>
</g>
<path d="M395.7 573.50H435.7" stroke="#f06060" stroke-width="1.1" fill="none" stroke-linejoin="round"/>
<text transform="translate(442.5,576.00) scale(1.1,1)" font-size="8.0" font-weight="bold" fill="#111">t=0.001</text>
<path d="M395.7 582.31H435.7" stroke="#d01010" stroke-width="1.2" fill="none" stroke-linejoin="round" stroke-dasharray="4.6 1.8 1.2 1.8"/>
<text transform="translate(442.5,584.81) scale(1.1,1)" font-size="8.0" font-weight="bold" fill="#111">t=0.5</text>
<path d="M395.7 591.12H435.7" stroke="#20cc20" stroke-width="1.3" fill="none" stroke-linejoin="round" stroke-dasharray="4.6 1.8 1.2 1.8"/>
<text transform="translate(442.5,593.62) scale(1.1,1)" font-size="8.0" font-weight="bold" fill="#111">t=1.0</text>
<path d="M395.7 599.93H435.7" stroke="#3040f0" stroke-width="1.6" fill="none" stroke-linejoin="round" stroke-dasharray="4.6 1.8 1.2 1.8"/>
<text transform="translate(442.5,602.43) scale(1.1,1)" font-size="8.0" font-weight="bold" fill="#111">t=2.0</text>
<path d="M395.7 608.74H435.7" stroke="#30f0f0" stroke-width="2.0" fill="none" stroke-linejoin="round"/>
<text transform="translate(442.5,611.24) scale(1.1,1)" font-size="8.0" font-weight="bold" fill="#111">t=3.0</text>
<path d="M395.7 617.55H435.7" stroke="#ff9040" stroke-width="1.7" fill="none" stroke-linejoin="round"/>
<text transform="translate(442.5,620.05) scale(1.1,1)" font-size="8.0" font-weight="bold" fill="#111">t=4.0</text>
<path d="M395.7 626.36H435.7" stroke="#444" stroke-width="1.4" fill="none" stroke-linejoin="round" stroke-dasharray="4.6 1.8 1.2 1.8"/>
<text transform="translate(442.5,628.86) scale(1.1,1)" font-size="8.0" font-weight="bold" fill="#111">t=5.0</text>
<path d="M395.7 635.17H435.7" stroke="#ff00f0" stroke-width="1.3" fill="none" stroke-linejoin="round"/>
<text transform="translate(442.5,637.67) scale(1.1,1)" font-size="8.0" font-weight="bold" fill="#111">t=6.0</text>
<path d="M55.66 230.50v-3.5M55.66 11.00v3.5M67.81 230.50v-3.5M67.81 11.00v3.5M79.97 230.50v-3.5M79.97 11.00v3.5M104.28 230.50v-3.5M104.28 11.00v3.5M116.43 230.50v-3.5M116.43 11.00v3.5M128.59 230.50v-3.5M128.59 11.00v3.5M152.90 230.50v-3.5M152.90 11.00v3.5M165.05 230.50v-3.5M165.05 11.00v3.5M177.21 230.50v-3.5M177.21 11.00v3.5M201.52 230.50v-3.5M201.52 11.00v3.5M213.67 230.50v-3.5M213.67 11.00v3.5M225.83 230.50v-3.5M225.83 11.00v3.5M250.14 230.50v-3.5M250.14 11.00v3.5M262.29 230.50v-3.5M262.29 11.00v3.5M274.45 230.50v-3.5M274.45 11.00v3.5M31.50 228.45h3.5M299.00 228.45h-3.5M31.50 226.60h3.5M299.00 226.60h-3.5M31.50 224.96h3.5M299.00 224.96h-3.5M31.50 213.87h3.5M299.00 213.87h-3.5M31.50 208.24h3.5M299.00 208.24h-3.5M31.50 204.24h3.5M299.00 204.24h-3.5M31.50 201.14h3.5M299.00 201.14h-3.5M31.50 198.61h3.5M299.00 198.61h-3.5M31.50 196.47h3.5M299.00 196.47h-3.5M31.50 194.62h3.5M299.00 194.62h-3.5M31.50 192.98h3.5M299.00 192.98h-3.5M31.50 181.89h3.5M299.00 181.89h-3.5M31.50 176.26h3.5M299.00 176.26h-3.5M31.50 172.26h3.5M299.00 172.26h-3.5M31.50 169.16h3.5M299.00 169.16h-3.5M31.50 166.63h3.5M299.00 166.63h-3.5M31.50 164.49h3.5M299.00 164.49h-3.5M31.50 162.63h3.5M299.00 162.63h-3.5M31.50 161.00h3.5M299.00 161.00h-3.5M31.50 149.91h3.5M299.00 149.91h-3.5M31.50 144.27h3.5M299.00 144.27h-3.5M31.50 140.28h3.5M299.00 140.28h-3.5M31.50 137.18h3.5M299.00 137.18h-3.5M31.50 134.65h3.5M299.00 134.65h-3.5M31.50 132.50h3.5M299.00 132.50h-3.5M31.50 130.65h3.5M299.00 130.65h-3.5M31.50 129.01h3.5M299.00 129.01h-3.5M31.50 117.92h3.5M299.00 117.92h-3.5M31.50 112.29h3.5M299.00 112.29h-3.5M31.50 108.29h3.5M299.00 108.29h-3.5M31.50 105.19h3.5M299.00 105.19h-3.5M31.50 102.66h3.5M299.00 102.66h-3.5M31.50 100.52h3.5M299.00 100.52h-3.5M31.50 98.67h3.5M299.00 98.67h-3.5M31.50 97.03h3.5M299.00 97.03h-3.5M31.50 85.94h3.5M299.00 85.94h-3.5M31.50 80.31h3.5M299.00 80.31h-3.5M31.50 76.31h3.5M299.00 76.31h-3.5M31.50 73.21h3.5M299.00 73.21h-3.5M31.50 70.68h3.5M299.00 70.68h-3.5M31.50 68.54h3.5M299.00 68.54h-3.5M31.50 66.68h3.5M299.00 66.68h-3.5M31.50 65.05h3.5M299.00 65.05h-3.5M31.50 53.96h3.5M299.00 53.96h-3.5M31.50 48.32h3.5M299.00 48.32h-3.5M31.50 44.33h3.5M299.00 44.33h-3.5M31.50 41.23h3.5M299.00 41.23h-3.5M31.50 38.70h3.5M299.00 38.70h-3.5M31.50 36.55h3.5M299.00 36.55h-3.5M31.50 34.70h3.5M299.00 34.70h-3.5M31.50 33.06h3.5M299.00 33.06h-3.5M31.50 21.97h3.5M299.00 21.97h-3.5M31.50 16.34h3.5M299.00 16.34h-3.5M31.50 12.34h3.5M299.00 12.34h-3.5" stroke="#000" stroke-width="1.0" fill="none"/>
<path d="M43.50 230.50v-5.5M43.50 11.00v5.5M92.12 230.50v-5.5M92.12 11.00v5.5M140.74 230.50v-5.5M140.74 11.00v5.5M189.36 230.50v-5.5M189.36 11.00v5.5M237.98 230.50v-5.5M237.98 11.00v5.5M286.60 230.50v-5.5M286.60 11.00v5.5M31.50 223.50h5.5M299.00 223.50h-5.5M31.50 191.52h5.5M299.00 191.52h-5.5M31.50 159.53h5.5M299.00 159.53h-5.5M31.50 127.55h5.5M299.00 127.55h-5.5M31.50 95.57h5.5M299.00 95.57h-5.5M31.50 63.58h5.5M299.00 63.58h-5.5M31.50 31.60h5.5M299.00 31.60h-5.5" stroke="#000" stroke-width="1.35" fill="none"/>
<rect x="31.5" y="11.0" width="267.50" height="219.50" stroke="#000" stroke-width="1.4" fill="none"/>
<text x="43.50" y="240.00" font-size="9.1" text-anchor="middle" fill="#222">19</text>
<text x="43.50" y="8.50" font-size="9.4" text-anchor="middle" fill="#222">19</text>
<text x="92.12" y="240.00" font-size="9.1" text-anchor="middle" fill="#222">19.2</text>
<text x="92.12" y="8.50" font-size="9.4" text-anchor="middle" fill="#222">19.2</text>
<text x="140.74" y="240.00" font-size="9.1" text-anchor="middle" fill="#222">19.4</text>
<text x="140.74" y="8.50" font-size="9.4" text-anchor="middle" fill="#222">19.4</text>
<text x="189.36" y="240.00" font-size="9.1" text-anchor="middle" fill="#222">19.6</text>
<text x="189.36" y="8.50" font-size="9.4" text-anchor="middle" fill="#222">19.6</text>
<text x="237.98" y="240.00" font-size="9.1" text-anchor="middle" fill="#222">19.8</text>
<text x="237.98" y="8.50" font-size="9.4" text-anchor="middle" fill="#222">19.8</text>
<text x="286.60" y="240.00" font-size="9.1" text-anchor="middle" fill="#222">20</text>
<text x="286.60" y="8.50" font-size="9.4" text-anchor="middle" fill="#222">20</text>
<text transform="translate(24.65,226.60) scale(1,1.07)" font-size="8.8" text-anchor="end" fill="#222">10</text>
<text x="24.85" y="222.00" font-size="6.2" fill="#222">3</text>
<text transform="translate(302.90,226.60) scale(1,1.07)" font-size="8.8" fill="#222">10</text>
<text x="312.89" y="222.00" font-size="6.2" fill="#222">3</text>
<text transform="translate(24.65,194.62) scale(1,1.07)" font-size="8.8" text-anchor="end" fill="#222">10</text>
<text x="24.85" y="190.02" font-size="6.2" fill="#222">4</text>
<text transform="translate(302.90,194.62) scale(1,1.07)" font-size="8.8" fill="#222">10</text>
<text x="312.89" y="190.02" font-size="6.2" fill="#222">4</text>
<text transform="translate(24.65,162.63) scale(1,1.07)" font-size="8.8" text-anchor="end" fill="#222">10</text>
<text x="24.85" y="158.03" font-size="6.2" fill="#222">5</text>
<text transform="translate(302.90,162.63) scale(1,1.07)" font-size="8.8" fill="#222">10</text>
<text x="312.89" y="158.03" font-size="6.2" fill="#222">5</text>
<text transform="translate(24.65,130.65) scale(1,1.07)" font-size="8.8" text-anchor="end" fill="#222">10</text>
<text x="24.85" y="126.05" font-size="6.2" fill="#222">6</text>
<text transform="translate(302.90,130.65) scale(1,1.07)" font-size="8.8" fill="#222">10</text>
<text x="312.89" y="126.05" font-size="6.2" fill="#222">6</text>
<text transform="translate(24.65,98.67) scale(1,1.07)" font-size="8.8" text-anchor="end" fill="#222">10</text>
<text x="24.85" y="94.07" font-size="6.2" fill="#222">7</text>
<text transform="translate(302.90,98.67) scale(1,1.07)" font-size="8.8" fill="#222">10</text>
<text x="312.89" y="94.07" font-size="6.2" fill="#222">7</text>
<text transform="translate(24.65,66.68) scale(1,1.07)" font-size="8.8" text-anchor="end" fill="#222">10</text>
<text x="24.85" y="62.08" font-size="6.2" fill="#222">8</text>
<text transform="translate(302.90,66.68) scale(1,1.07)" font-size="8.8" fill="#222">10</text>
<text x="312.89" y="62.08" font-size="6.2" fill="#222">8</text>
<text transform="translate(24.65,34.70) scale(1,1.07)" font-size="8.8" text-anchor="end" fill="#222">10</text>
<text x="24.85" y="30.10" font-size="6.2" fill="#222">9</text>
<text transform="translate(302.90,34.70) scale(1,1.07)" font-size="8.8" fill="#222">10</text>
<text x="312.89" y="30.10" font-size="6.2" fill="#222">9</text>
<text transform="translate(11.8,120.5) rotate(-90)" font-size="9.9" font-weight="bold" text-anchor="middle" textLength="19.2" lengthAdjust="spacingAndGlyphs" fill="#111">PDF</text>
<text x="165" y="253" font-size="9.4" font-weight="bold" text-anchor="middle" fill="#111">Radius [&#956;m]</text>
<path d="M390.27 230.20v-3.5M390.27 11.40v3.5M402.04 230.20v-3.5M402.04 11.40v3.5M413.81 230.20v-3.5M413.81 11.40v3.5M425.58 230.20v-3.5M425.58 11.40v3.5M449.12 230.20v-3.5M449.12 11.40v3.5M460.89 230.20v-3.5M460.89 11.40v3.5M472.66 230.20v-3.5M472.66 11.40v3.5M484.43 230.20v-3.5M484.43 11.40v3.5M507.97 230.20v-3.5M507.97 11.40v3.5M519.74 230.20v-3.5M519.74 11.40v3.5M531.51 230.20v-3.5M531.51 11.40v3.5M543.28 230.20v-3.5M543.28 11.40v3.5M566.82 230.20v-3.5M566.82 11.40v3.5M578.59 230.20v-3.5M578.59 11.40v3.5M590.36 230.20v-3.5M590.36 11.40v3.5M602.13 230.20v-3.5M602.13 11.40v3.5M625.67 230.20v-3.5M625.67 11.40v3.5M637.44 230.20v-3.5M637.44 11.40v3.5M378.50 229.15h3.5M649.40 229.15h-3.5M378.50 227.11h3.5M649.40 227.11h-3.5M378.50 225.39h3.5M649.40 225.39h-3.5M378.50 223.90h3.5M649.40 223.90h-3.5M378.50 222.58h3.5M649.40 222.58h-3.5M378.50 213.65h3.5M649.40 213.65h-3.5M378.50 209.11h3.5M649.40 209.11h-3.5M378.50 205.90h3.5M649.40 205.90h-3.5M378.50 203.40h3.5M649.40 203.40h-3.5M378.50 201.36h3.5M649.40 201.36h-3.5M378.50 199.64h3.5M649.40 199.64h-3.5M378.50 198.15h3.5M649.40 198.15h-3.5M378.50 196.83h3.5M649.40 196.83h-3.5M378.50 187.90h3.5M649.40 187.90h-3.5M378.50 183.36h3.5M649.40 183.36h-3.5M378.50 180.15h3.5M649.40 180.15h-3.5M378.50 177.65h3.5M649.40 177.65h-3.5M378.50 175.61h3.5M649.40 175.61h-3.5M378.50 173.89h3.5M649.40 173.89h-3.5M378.50 172.40h3.5M649.40 172.40h-3.5M378.50 171.08h3.5M649.40 171.08h-3.5M378.50 162.15h3.5M649.40 162.15h-3.5M378.50 157.61h3.5M649.40 157.61h-3.5M378.50 154.40h3.5M649.40 154.40h-3.5M378.50 151.90h3.5M649.40 151.90h-3.5M378.50 149.86h3.5M649.40 149.86h-3.5M378.50 148.14h3.5M649.40 148.14h-3.5M378.50 146.65h3.5M649.40 146.65h-3.5M378.50 145.33h3.5M649.40 145.33h-3.5M378.50 136.40h3.5M649.40 136.40h-3.5M378.50 131.86h3.5M649.40 131.86h-3.5M378.50 128.65h3.5M649.40 128.65h-3.5M378.50 126.15h3.5M649.40 126.15h-3.5M378.50 124.11h3.5M649.40 124.11h-3.5M378.50 122.39h3.5M649.40 122.39h-3.5M378.50 120.90h3.5M649.40 120.90h-3.5M378.50 119.58h3.5M649.40 119.58h-3.5M378.50 110.65h3.5M649.40 110.65h-3.5M378.50 106.11h3.5M649.40 106.11h-3.5M378.50 102.90h3.5M649.40 102.90h-3.5M378.50 100.40h3.5M649.40 100.40h-3.5M378.50 98.36h3.5M649.40 98.36h-3.5M378.50 96.64h3.5M649.40 96.64h-3.5M378.50 95.15h3.5M649.40 95.15h-3.5M378.50 93.83h3.5M649.40 93.83h-3.5M378.50 84.90h3.5M649.40 84.90h-3.5M378.50 80.36h3.5M649.40 80.36h-3.5M378.50 77.15h3.5M649.40 77.15h-3.5M378.50 74.65h3.5M649.40 74.65h-3.5M378.50 72.61h3.5M649.40 72.61h-3.5M378.50 70.89h3.5M649.40 70.89h-3.5M378.50 69.40h3.5M649.40 69.40h-3.5M378.50 68.08h3.5M649.40 68.08h-3.5M378.50 59.15h3.5M649.40 59.15h-3.5M378.50 54.61h3.5M649.40 54.61h-3.5M378.50 51.40h3.5M649.40 51.40h-3.5M378.50 48.90h3.5M649.40 48.90h-3.5M378.50 46.86h3.5M649.40 46.86h-3.5M378.50 45.14h3.5M649.40 45.14h-3.5M378.50 43.65h3.5M649.40 43.65h-3.5M378.50 42.33h3.5M649.40 42.33h-3.5M378.50 33.40h3.5M649.40 33.40h-3.5M378.50 28.86h3.5M649.40 28.86h-3.5M378.50 25.65h3.5M649.40 25.65h-3.5M378.50 23.15h3.5M649.40 23.15h-3.5M378.50 21.11h3.5M649.40 21.11h-3.5M378.50 19.39h3.5M649.40 19.39h-3.5M378.50 17.90h3.5M649.40 17.90h-3.5M378.50 16.58h3.5M649.40 16.58h-3.5" stroke="#000" stroke-width="1.0" fill="none"/>
<path d="M437.35 230.20v-5.5M437.35 11.40v5.5M496.20 230.20v-5.5M496.20 11.40v5.5M555.05 230.20v-5.5M555.05 11.40v5.5M613.90 230.20v-5.5M613.90 11.40v5.5M378.50 221.40h5.5M649.40 221.40h-5.5M378.50 195.65h5.5M649.40 195.65h-5.5M378.50 169.90h5.5M649.40 169.90h-5.5M378.50 144.15h5.5M649.40 144.15h-5.5M378.50 118.40h5.5M649.40 118.40h-5.5M378.50 92.65h5.5M649.40 92.65h-5.5M378.50 66.90h5.5M649.40 66.90h-5.5M378.50 41.15h5.5M649.40 41.15h-5.5M378.50 15.40h5.5M649.40 15.40h-5.5" stroke="#000" stroke-width="1.35" fill="none"/>
<rect x="378.5" y="11.4" width="270.90" height="218.80" stroke="#000" stroke-width="1.4" fill="none"/>
<text x="378.50" y="239.70" font-size="9.1" text-anchor="middle" fill="#222">-20</text>
<text x="378.50" y="8.90" font-size="9.4" text-anchor="middle" fill="#222">-20</text>
<text x="437.35" y="239.70" font-size="9.1" text-anchor="middle" fill="#222">-15</text>
<text x="437.35" y="8.90" font-size="9.4" text-anchor="middle" fill="#222">-15</text>
<text x="496.20" y="239.70" font-size="9.1" text-anchor="middle" fill="#222">-10</text>
<text x="496.20" y="8.90" font-size="9.4" text-anchor="middle" fill="#222">-10</text>
<text x="555.05" y="239.70" font-size="9.1" text-anchor="middle" fill="#222">-5</text>
<text x="555.05" y="8.90" font-size="9.4" text-anchor="middle" fill="#222">-5</text>
<text x="613.90" y="239.70" font-size="9.1" text-anchor="middle" fill="#222">0</text>
<text x="613.90" y="8.90" font-size="9.4" text-anchor="middle" fill="#222">0</text>
<text transform="translate(369.59,224.50) scale(1,1.07)" font-size="8.8" text-anchor="end" fill="#222">10</text>
<text x="369.79" y="219.90" font-size="6.2" fill="#222">-1</text>
<text transform="translate(653.30,224.50) scale(1,1.07)" font-size="8.8" fill="#222">10</text>
<text x="663.29" y="219.90" font-size="6.2" fill="#222">-1</text>
<text transform="translate(371.65,198.75) scale(1,1.07)" font-size="8.8" text-anchor="end" fill="#222">10</text>
<text x="371.85" y="194.15" font-size="6.2" fill="#222">0</text>
<text transform="translate(653.30,198.75) scale(1,1.07)" font-size="8.8" fill="#222">10</text>
<text x="663.29" y="194.15" font-size="6.2" fill="#222">0</text>
<text transform="translate(371.65,173.00) scale(1,1.07)" font-size="8.8" text-anchor="end" fill="#222">10</text>
<text x="371.85" y="168.40" font-size="6.2" fill="#222">1</text>
<text transform="translate(653.30,173.00) scale(1,1.07)" font-size="8.8" fill="#222">10</text>
<text x="663.29" y="168.40" font-size="6.2" fill="#222">1</text>
<text transform="translate(371.65,147.25) scale(1,1.07)" font-size="8.8" text-anchor="end" fill="#222">10</text>
<text x="371.85" y="142.65" font-size="6.2" fill="#222">2</text>
<text transform="translate(653.30,147.25) scale(1,1.07)" font-size="8.8" fill="#222">10</text>
<text x="663.29" y="142.65" font-size="6.2" fill="#222">2</text>
<text transform="translate(371.65,121.50) scale(1,1.07)" font-size="8.8" text-anchor="end" fill="#222">10</text>
<text x="371.85" y="116.90" font-size="6.2" fill="#222">3</text>
<text transform="translate(653.30,121.50) scale(1,1.07)" font-size="8.8" fill="#222">10</text>
<text x="663.29" y="116.90" font-size="6.2" fill="#222">3</text>
<text transform="translate(371.65,95.75) scale(1,1.07)" font-size="8.8" text-anchor="end" fill="#222">10</text>
<text x="371.85" y="91.15" font-size="6.2" fill="#222">4</text>
<text transform="translate(653.30,95.75) scale(1,1.07)" font-size="8.8" fill="#222">10</text>
<text x="663.29" y="91.15" font-size="6.2" fill="#222">4</text>
<text transform="translate(371.65,70.00) scale(1,1.07)" font-size="8.8" text-anchor="end" fill="#222">10</text>
<text x="371.85" y="65.40" font-size="6.2" fill="#222">5</text>
<text transform="translate(653.30,70.00) scale(1,1.07)" font-size="8.8" fill="#222">10</text>
<text x="663.29" y="65.40" font-size="6.2" fill="#222">5</text>
<text transform="translate(371.65,44.25) scale(1,1.07)" font-size="8.8" text-anchor="end" fill="#222">10</text>
<text x="371.85" y="39.65" font-size="6.2" fill="#222">6</text>
<text transform="translate(653.30,44.25) scale(1,1.07)" font-size="8.8" fill="#222">10</text>
<text x="663.29" y="39.65" font-size="6.2" fill="#222">6</text>
<text transform="translate(371.65,18.50) scale(1,1.07)" font-size="8.8" text-anchor="end" fill="#222">10</text>
<text x="371.85" y="13.90" font-size="6.2" fill="#222">7</text>
<text transform="translate(653.30,18.50) scale(1,1.07)" font-size="8.8" fill="#222">10</text>
<text x="663.29" y="13.90" font-size="6.2" fill="#222">7</text>
<text transform="translate(355.0,120.4) rotate(-90)" font-size="9.9" font-weight="bold" text-anchor="middle" textLength="19.2" lengthAdjust="spacingAndGlyphs" fill="#111">PDF</text>
<text x="514" y="253" font-size="9.4" font-weight="bold" text-anchor="middle" fill="#111">Supersaturation</text>
<path d="M54.74 504.80v-3.5M54.74 285.80v3.5M66.37 504.80v-3.5M66.37 285.80v3.5M78.01 504.80v-3.5M78.01 285.80v3.5M89.64 504.80v-3.5M89.64 285.80v3.5M112.91 504.80v-3.5M112.91 285.80v3.5M124.54 504.80v-3.5M124.54 285.80v3.5M136.18 504.80v-3.5M136.18 285.80v3.5M147.82 504.80v-3.5M147.82 285.80v3.5M171.09 504.80v-3.5M171.09 285.80v3.5M182.72 504.80v-3.5M182.72 285.80v3.5M194.36 504.80v-3.5M194.36 285.80v3.5M205.99 504.80v-3.5M205.99 285.80v3.5M229.26 504.80v-3.5M229.26 285.80v3.5M240.90 504.80v-3.5M240.90 285.80v3.5M252.53 504.80v-3.5M252.53 285.80v3.5M264.17 504.80v-3.5M264.17 285.80v3.5M287.44 504.80v-3.5M287.44 285.80v3.5M31.70 501.88h3.5M299.10 501.88h-3.5M31.70 499.11h3.5M299.10 499.11h-3.5M31.70 496.84h3.5M299.10 496.84h-3.5M31.70 494.93h3.5M299.10 494.93h-3.5M31.70 493.27h3.5M299.10 493.27h-3.5M31.70 491.81h3.5M299.10 491.81h-3.5M31.70 481.89h3.5M299.10 481.89h-3.5M31.70 476.85h3.5M299.10 476.85h-3.5M31.70 473.28h3.5M299.10 473.28h-3.5M31.70 470.51h3.5M299.10 470.51h-3.5M31.70 468.24h3.5M299.10 468.24h-3.5M31.70 466.33h3.5M299.10 466.33h-3.5M31.70 464.67h3.5M299.10 464.67h-3.5M31.70 463.21h3.5M299.10 463.21h-3.5M31.70 453.29h3.5M299.10 453.29h-3.5M31.70 448.25h3.5M299.10 448.25h-3.5M31.70 444.68h3.5M299.10 444.68h-3.5M31.70 441.91h3.5M299.10 441.91h-3.5M31.70 439.64h3.5M299.10 439.64h-3.5M31.70 437.73h3.5M299.10 437.73h-3.5M31.70 436.07h3.5M299.10 436.07h-3.5M31.70 434.61h3.5M299.10 434.61h-3.5M31.70 424.69h3.5M299.10 424.69h-3.5M31.70 419.65h3.5M299.10 419.65h-3.5M31.70 416.08h3.5M299.10 416.08h-3.5M31.70 413.31h3.5M299.10 413.31h-3.5M31.70 411.04h3.5M299.10 411.04h-3.5M31.70 409.13h3.5M299.10 409.13h-3.5M31.70 407.47h3.5M299.10 407.47h-3.5M31.70 406.01h3.5M299.10 406.01h-3.5M31.70 396.09h3.5M299.10 396.09h-3.5M31.70 391.05h3.5M299.10 391.05h-3.5M31.70 387.48h3.5M299.10 387.48h-3.5M31.70 384.71h3.5M299.10 384.71h-3.5M31.70 382.44h3.5M299.10 382.44h-3.5M31.70 380.53h3.5M299.10 380.53h-3.5M31.70 378.87h3.5M299.10 378.87h-3.5M31.70 377.41h3.5M299.10 377.41h-3.5M31.70 367.49h3.5M299.10 367.49h-3.5M31.70 362.45h3.5M299.10 362.45h-3.5M31.70 358.88h3.5M299.10 358.88h-3.5M31.70 356.11h3.5M299.10 356.11h-3.5M31.70 353.84h3.5M299.10 353.84h-3.5M31.70 351.93h3.5M299.10 351.93h-3.5M31.70 350.27h3.5M299.10 350.27h-3.5M31.70 348.81h3.5M299.10 348.81h-3.5M31.70 338.89h3.5M299.10 338.89h-3.5M31.70 333.85h3.5M299.10 333.85h-3.5M31.70 330.28h3.5M299.10 330.28h-3.5M31.70 327.51h3.5M299.10 327.51h-3.5M31.70 325.24h3.5M299.10 325.24h-3.5M31.70 323.33h3.5M299.10 323.33h-3.5M31.70 321.67h3.5M299.10 321.67h-3.5M31.70 320.21h3.5M299.10 320.21h-3.5M31.70 310.29h3.5M299.10 310.29h-3.5M31.70 305.25h3.5M299.10 305.25h-3.5M31.70 301.68h3.5M299.10 301.68h-3.5M31.70 298.91h3.5M299.10 298.91h-3.5M31.70 296.64h3.5M299.10 296.64h-3.5M31.70 294.73h3.5M299.10 294.73h-3.5M31.70 293.07h3.5M299.10 293.07h-3.5M31.70 291.61h3.5M299.10 291.61h-3.5" stroke="#000" stroke-width="1.0" fill="none"/>
<path d="M43.10 504.80v-5.5M43.10 285.80v5.5M101.28 504.80v-5.5M101.28 285.80v5.5M159.45 504.80v-5.5M159.45 285.80v5.5M217.62 504.80v-5.5M217.62 285.80v5.5M275.80 504.80v-5.5M275.80 285.80v5.5M31.70 490.50h5.5M299.10 490.50h-5.5M31.70 461.90h5.5M299.10 461.90h-5.5M31.70 433.30h5.5M299.10 433.30h-5.5M31.70 404.70h5.5M299.10 404.70h-5.5M31.70 376.10h5.5M299.10 376.10h-5.5M31.70 347.50h5.5M299.10 347.50h-5.5M31.70 318.90h5.5M299.10 318.90h-5.5M31.70 290.30h5.5M299.10 290.30h-5.5" stroke="#000" stroke-width="1.35" fill="none"/>
<rect x="31.7" y="285.8" width="267.40" height="219.00" stroke="#000" stroke-width="1.4" fill="none"/>
<text x="43.10" y="514.30" font-size="9.1" text-anchor="middle" fill="#222">18</text>
<text x="43.10" y="283.30" font-size="9.4" text-anchor="middle" fill="#222">18</text>
<text x="101.28" y="514.30" font-size="9.1" text-anchor="middle" fill="#222">18.5</text>
<text x="101.28" y="283.30" font-size="9.4" text-anchor="middle" fill="#222">18.5</text>
<text x="159.45" y="514.30" font-size="9.1" text-anchor="middle" fill="#222">19</text>
<text x="159.45" y="283.30" font-size="9.4" text-anchor="middle" fill="#222">19</text>
<text x="217.62" y="514.30" font-size="9.1" text-anchor="middle" fill="#222">19.5</text>
<text x="217.62" y="283.30" font-size="9.4" text-anchor="middle" fill="#222">19.5</text>
<text x="275.80" y="514.30" font-size="9.1" text-anchor="middle" fill="#222">20</text>
<text x="275.80" y="283.30" font-size="9.4" text-anchor="middle" fill="#222">20</text>
<text transform="translate(24.85,493.60) scale(1,1.07)" font-size="8.8" text-anchor="end" fill="#222">10</text>
<text x="25.05" y="489.00" font-size="6.2" fill="#222">2</text>
<text transform="translate(303.00,493.60) scale(1,1.07)" font-size="8.8" fill="#222">10</text>
<text x="312.99" y="489.00" font-size="6.2" fill="#222">2</text>
<text transform="translate(24.85,465.00) scale(1,1.07)" font-size="8.8" text-anchor="end" fill="#222">10</text>
<text x="25.05" y="460.40" font-size="6.2" fill="#222">3</text>
<text transform="translate(303.00,465.00) scale(1,1.07)" font-size="8.8" fill="#222">10</text>
<text x="312.99" y="460.40" font-size="6.2" fill="#222">3</text>
<text transform="translate(24.85,436.40) scale(1,1.07)" font-size="8.8" text-anchor="end" fill="#222">10</text>
<text x="25.05" y="431.80" font-size="6.2" fill="#222">4</text>
<text transform="translate(303.00,436.40) scale(1,1.07)" font-size="8.8" fill="#222">10</text>
<text x="312.99" y="431.80" font-size="6.2" fill="#222">4</text>
<text transform="translate(24.85,407.80) scale(1,1.07)" font-size="8.8" text-anchor="end" fill="#222">10</text>
<text x="25.05" y="403.20" font-size="6.2" fill="#222">5</text>
<text transform="translate(303.00,407.80) scale(1,1.07)" font-size="8.8" fill="#222">10</text>
<text x="312.99" y="403.20" font-size="6.2" fill="#222">5</text>
<text transform="translate(24.85,379.20) scale(1,1.07)" font-size="8.8" text-anchor="end" fill="#222">10</text>
<text x="25.05" y="374.60" font-size="6.2" fill="#222">6</text>
<text transform="translate(303.00,379.20) scale(1,1.07)" font-size="8.8" fill="#222">10</text>
<text x="312.99" y="374.60" font-size="6.2" fill="#222">6</text>
<text transform="translate(24.85,350.60) scale(1,1.07)" font-size="8.8" text-anchor="end" fill="#222">10</text>
<text x="25.05" y="346.00" font-size="6.2" fill="#222">7</text>
<text transform="translate(303.00,350.60) scale(1,1.07)" font-size="8.8" fill="#222">10</text>
<text x="312.99" y="346.00" font-size="6.2" fill="#222">7</text>
<text transform="translate(24.85,322.00) scale(1,1.07)" font-size="8.8" text-anchor="end" fill="#222">10</text>
<text x="25.05" y="317.40" font-size="6.2" fill="#222">8</text>
<text transform="translate(303.00,322.00) scale(1,1.07)" font-size="8.8" fill="#222">10</text>
<text x="312.99" y="317.40" font-size="6.2" fill="#222">8</text>
<text transform="translate(24.85,293.40) scale(1,1.07)" font-size="8.8" text-anchor="end" fill="#222">10</text>
<text x="25.05" y="288.80" font-size="6.2" fill="#222">9</text>
<text transform="translate(303.00,293.40) scale(1,1.07)" font-size="8.8" fill="#222">10</text>
<text x="312.99" y="288.80" font-size="6.2" fill="#222">9</text>
<text transform="translate(11.8,395.2) rotate(-90)" font-size="9.9" font-weight="bold" text-anchor="middle" textLength="19.2" lengthAdjust="spacingAndGlyphs" fill="#111">PDF</text>
<text x="165.5" y="525.2" font-size="9.4" font-weight="bold" text-anchor="middle" fill="#111">Radius [&#956;m]</text>
<path d="M390.27 505.00v-3.5M390.27 285.80v3.5M402.04 505.00v-3.5M402.04 285.80v3.5M413.81 505.00v-3.5M413.81 285.80v3.5M425.58 505.00v-3.5M425.58 285.80v3.5M449.12 505.00v-3.5M449.12 285.80v3.5M460.89 505.00v-3.5M460.89 285.80v3.5M472.66 505.00v-3.5M472.66 285.80v3.5M484.43 505.00v-3.5M484.43 285.80v3.5M507.97 505.00v-3.5M507.97 285.80v3.5M519.74 505.00v-3.5M519.74 285.80v3.5M531.51 505.00v-3.5M531.51 285.80v3.5M543.28 505.00v-3.5M543.28 285.80v3.5M566.82 505.00v-3.5M566.82 285.80v3.5M578.59 505.00v-3.5M578.59 285.80v3.5M590.36 505.00v-3.5M590.36 285.80v3.5M602.13 505.00v-3.5M602.13 285.80v3.5M625.67 505.00v-3.5M625.67 285.80v3.5M637.44 505.00v-3.5M637.44 285.80v3.5M378.50 500.96h3.5M649.20 500.96h-3.5M378.50 496.76h3.5M649.20 496.76h-3.5M378.50 493.79h3.5M649.20 493.79h-3.5M378.50 491.48h3.5M649.20 491.48h-3.5M378.50 489.59h3.5M649.20 489.59h-3.5M378.50 487.99h3.5M649.20 487.99h-3.5M378.50 486.61h3.5M649.20 486.61h-3.5M378.50 485.39h3.5M649.20 485.39h-3.5M378.50 477.12h3.5M649.20 477.12h-3.5M378.50 472.93h3.5M649.20 472.93h-3.5M378.50 469.95h3.5M649.20 469.95h-3.5M378.50 467.64h3.5M649.20 467.64h-3.5M378.50 465.75h3.5M649.20 465.75h-3.5M378.50 464.15h3.5M649.20 464.15h-3.5M378.50 462.77h3.5M649.20 462.77h-3.5M378.50 461.55h3.5M649.20 461.55h-3.5M378.50 453.29h3.5M649.20 453.29h-3.5M378.50 449.09h3.5M649.20 449.09h-3.5M378.50 446.11h3.5M649.20 446.11h-3.5M378.50 443.80h3.5M649.20 443.80h-3.5M378.50 441.91h3.5M649.20 441.91h-3.5M378.50 440.32h3.5M649.20 440.32h-3.5M378.50 438.94h3.5M649.20 438.94h-3.5M378.50 437.72h3.5M649.20 437.72h-3.5M378.50 429.45h3.5M649.20 429.45h-3.5M378.50 425.25h3.5M649.20 425.25h-3.5M378.50 422.27h3.5M649.20 422.27h-3.5M378.50 419.96h3.5M649.20 419.96h-3.5M378.50 418.08h3.5M649.20 418.08h-3.5M378.50 416.48h3.5M649.20 416.48h-3.5M378.50 415.10h3.5M649.20 415.10h-3.5M378.50 413.88h3.5M649.20 413.88h-3.5M378.50 405.61h3.5M649.20 405.61h-3.5M378.50 401.41h3.5M649.20 401.41h-3.5M378.50 398.44h3.5M649.20 398.44h-3.5M378.50 396.13h3.5M649.20 396.13h-3.5M378.50 394.24h3.5M649.20 394.24h-3.5M378.50 392.64h3.5M649.20 392.64h-3.5M378.50 391.26h3.5M649.20 391.26h-3.5M378.50 390.04h3.5M649.20 390.04h-3.5M378.50 381.77h3.5M649.20 381.77h-3.5M378.50 377.58h3.5M649.20 377.58h-3.5M378.50 374.60h3.5M649.20 374.60h-3.5M378.50 372.29h3.5M649.20 372.29h-3.5M378.50 370.40h3.5M649.20 370.40h-3.5M378.50 368.80h3.5M649.20 368.80h-3.5M378.50 367.42h3.5M649.20 367.42h-3.5M378.50 366.20h3.5M649.20 366.20h-3.5M378.50 357.94h3.5M649.20 357.94h-3.5M378.50 353.74h3.5M649.20 353.74h-3.5M378.50 350.76h3.5M649.20 350.76h-3.5M378.50 348.45h3.5M649.20 348.45h-3.5M378.50 346.56h3.5M649.20 346.56h-3.5M378.50 344.97h3.5M649.20 344.97h-3.5M378.50 343.59h3.5M649.20 343.59h-3.5M378.50 342.37h3.5M649.20 342.37h-3.5M378.50 334.10h3.5M649.20 334.10h-3.5M378.50 329.90h3.5M649.20 329.90h-3.5M378.50 326.92h3.5M649.20 326.92h-3.5M378.50 324.61h3.5M649.20 324.61h-3.5M378.50 322.73h3.5M649.20 322.73h-3.5M378.50 321.13h3.5M649.20 321.13h-3.5M378.50 319.75h3.5M649.20 319.75h-3.5M378.50 318.53h3.5M649.20 318.53h-3.5M378.50 310.26h3.5M649.20 310.26h-3.5M378.50 306.06h3.5M649.20 306.06h-3.5M378.50 303.09h3.5M649.20 303.09h-3.5M378.50 300.78h3.5M649.20 300.78h-3.5M378.50 298.89h3.5M649.20 298.89h-3.5M378.50 297.29h3.5M649.20 297.29h-3.5M378.50 295.91h3.5M649.20 295.91h-3.5M378.50 294.69h3.5M649.20 294.69h-3.5" stroke="#000" stroke-width="1.0" fill="none"/>
<path d="M437.35 505.00v-5.5M437.35 285.80v5.5M496.20 505.00v-5.5M496.20 285.80v5.5M555.05 505.00v-5.5M555.05 285.80v5.5M613.90 505.00v-5.5M613.90 285.80v5.5M378.50 484.30h5.5M649.20 484.30h-5.5M378.50 460.46h5.5M649.20 460.46h-5.5M378.50 436.62h5.5M649.20 436.62h-5.5M378.50 412.79h5.5M649.20 412.79h-5.5M378.50 388.95h5.5M649.20 388.95h-5.5M378.50 365.11h5.5M649.20 365.11h-5.5M378.50 341.28h5.5M649.20 341.28h-5.5M378.50 317.44h5.5M649.20 317.44h-5.5M378.50 293.60h5.5M649.20 293.60h-5.5" stroke="#000" stroke-width="1.35" fill="none"/>
<rect x="378.5" y="285.8" width="270.70" height="219.20" stroke="#000" stroke-width="1.4" fill="none"/>
<text x="378.50" y="514.50" font-size="9.1" text-anchor="middle" fill="#222">-20</text>
<text x="378.50" y="283.30" font-size="9.4" text-anchor="middle" fill="#222">-20</text>
<text x="437.35" y="514.50" font-size="9.1" text-anchor="middle" fill="#222">-15</text>
<text x="437.35" y="283.30" font-size="9.4" text-anchor="middle" fill="#222">-15</text>
<text x="496.20" y="514.50" font-size="9.1" text-anchor="middle" fill="#222">-10</text>
<text x="496.20" y="283.30" font-size="9.4" text-anchor="middle" fill="#222">-10</text>
<text x="555.05" y="514.50" font-size="9.1" text-anchor="middle" fill="#222">-5</text>
<text x="555.05" y="283.30" font-size="9.4" text-anchor="middle" fill="#222">-5</text>
<text x="613.90" y="514.50" font-size="9.1" text-anchor="middle" fill="#222">0</text>
<text x="613.90" y="283.30" font-size="9.4" text-anchor="middle" fill="#222">0</text>
<text transform="translate(369.59,487.40) scale(1,1.07)" font-size="8.8" text-anchor="end" fill="#222">10</text>
<text x="369.79" y="482.80" font-size="6.2" fill="#222">-1</text>
<text transform="translate(653.10,487.40) scale(1,1.07)" font-size="8.8" fill="#222">10</text>
<text x="663.09" y="482.80" font-size="6.2" fill="#222">-1</text>
<text transform="translate(371.65,463.56) scale(1,1.07)" font-size="8.8" text-anchor="end" fill="#222">10</text>
<text x="371.85" y="458.96" font-size="6.2" fill="#222">0</text>
<text transform="translate(653.10,463.56) scale(1,1.07)" font-size="8.8" fill="#222">10</text>
<text x="663.09" y="458.96" font-size="6.2" fill="#222">0</text>
<text transform="translate(371.65,439.73) scale(1,1.07)" font-size="8.8" text-anchor="end" fill="#222">10</text>
<text x="371.85" y="435.12" font-size="6.2" fill="#222">1</text>
<text transform="translate(653.10,439.73) scale(1,1.07)" font-size="8.8" fill="#222">10</text>
<text x="663.09" y="435.12" font-size="6.2" fill="#222">1</text>
<text transform="translate(371.65,415.89) scale(1,1.07)" font-size="8.8" text-anchor="end" fill="#222">10</text>
<text x="371.85" y="411.29" font-size="6.2" fill="#222">2</text>
<text transform="translate(653.10,415.89) scale(1,1.07)" font-size="8.8" fill="#222">10</text>
<text x="663.09" y="411.29" font-size="6.2" fill="#222">2</text>
<text transform="translate(371.65,392.05) scale(1,1.07)" font-size="8.8" text-anchor="end" fill="#222">10</text>
<text x="371.85" y="387.45" font-size="6.2" fill="#222">3</text>
<text transform="translate(653.10,392.05) scale(1,1.07)" font-size="8.8" fill="#222">10</text>
<text x="663.09" y="387.45" font-size="6.2" fill="#222">3</text>
<text transform="translate(371.65,368.21) scale(1,1.07)" font-size="8.8" text-anchor="end" fill="#222">10</text>
<text x="371.85" y="363.61" font-size="6.2" fill="#222">4</text>
<text transform="translate(653.10,368.21) scale(1,1.07)" font-size="8.8" fill="#222">10</text>
<text x="663.09" y="363.61" font-size="6.2" fill="#222">4</text>
<text transform="translate(371.65,344.38) scale(1,1.07)" font-size="8.8" text-anchor="end" fill="#222">10</text>
<text x="371.85" y="339.78" font-size="6.2" fill="#222">5</text>
<text transform="translate(653.10,344.38) scale(1,1.07)" font-size="8.8" fill="#222">10</text>
<text x="663.09" y="339.78" font-size="6.2" fill="#222">5</text>
<text transform="translate(371.65,320.54) scale(1,1.07)" font-size="8.8" text-anchor="end" fill="#222">10</text>
<text x="371.85" y="315.94" font-size="6.2" fill="#222">6</text>
<text transform="translate(653.10,320.54) scale(1,1.07)" font-size="8.8" fill="#222">10</text>
<text x="663.09" y="315.94" font-size="6.2" fill="#222">6</text>
<text transform="translate(371.65,296.70) scale(1,1.07)" font-size="8.8" text-anchor="end" fill="#222">10</text>
<text x="371.85" y="292.10" font-size="6.2" fill="#222">7</text>
<text transform="translate(653.10,296.70) scale(1,1.07)" font-size="8.8" fill="#222">10</text>
<text x="663.09" y="292.10" font-size="6.2" fill="#222">7</text>
<text transform="translate(355.0,395.2) rotate(-90)" font-size="9.9" font-weight="bold" text-anchor="middle" textLength="19.2" lengthAdjust="spacingAndGlyphs" fill="#111">PDF</text>
<text x="513" y="527.7" font-size="9.4" font-weight="bold" text-anchor="middle" fill="#111">Supersaturation[ % ]</text>
<path d="M40.68 774.80v-3.5M40.68 560.90v3.5M58.52 774.80v-3.5M58.52 560.90v3.5M67.44 774.80v-3.5M67.44 560.90v3.5M76.36 774.80v-3.5M76.36 560.90v3.5M94.21 774.80v-3.5M94.21 560.90v3.5M103.13 774.80v-3.5M103.13 560.90v3.5M112.05 774.80v-3.5M112.05 560.90v3.5M129.89 774.80v-3.5M129.89 560.90v3.5M138.81 774.80v-3.5M138.81 560.90v3.5M147.74 774.80v-3.5M147.74 560.90v3.5M165.58 774.80v-3.5M165.58 560.90v3.5M174.50 774.80v-3.5M174.50 560.90v3.5M183.42 774.80v-3.5M183.42 560.90v3.5M201.26 774.80v-3.5M201.26 560.90v3.5M210.19 774.80v-3.5M210.19 560.90v3.5M219.11 774.80v-3.5M219.11 560.90v3.5M236.95 774.80v-3.5M236.95 560.90v3.5M245.87 774.80v-3.5M245.87 560.90v3.5M254.79 774.80v-3.5M254.79 560.90v3.5M272.64 774.80v-3.5M272.64 560.90v3.5M281.56 774.80v-3.5M281.56 560.90v3.5M290.48 774.80v-3.5M290.48 560.90v3.5M31.70 772.28h3.5M299.40 772.28h-3.5M31.70 769.86h3.5M299.40 769.86h-3.5M31.70 767.82h3.5M299.40 767.82h-3.5M31.70 766.05h3.5M299.40 766.05h-3.5M31.70 764.49h3.5M299.40 764.49h-3.5M31.70 753.92h3.5M299.40 753.92h-3.5M31.70 748.56h3.5M299.40 748.56h-3.5M31.70 744.75h3.5M299.40 744.75h-3.5M31.70 741.79h3.5M299.40 741.79h-3.5M31.70 739.38h3.5M299.40 739.38h-3.5M31.70 737.34h3.5M299.40 737.34h-3.5M31.70 735.57h3.5M299.40 735.57h-3.5M31.70 734.01h3.5M299.40 734.01h-3.5M31.70 723.44h3.5M299.40 723.44h-3.5M31.70 718.07h3.5M299.40 718.07h-3.5M31.70 714.26h3.5M299.40 714.26h-3.5M31.70 711.31h3.5M299.40 711.31h-3.5M31.70 708.90h3.5M299.40 708.90h-3.5M31.70 706.86h3.5M299.40 706.86h-3.5M31.70 705.09h3.5M299.40 705.09h-3.5M31.70 703.53h3.5M299.40 703.53h-3.5M31.70 692.96h3.5M299.40 692.96h-3.5M31.70 687.59h3.5M299.40 687.59h-3.5M31.70 683.78h3.5M299.40 683.78h-3.5M31.70 680.83h3.5M299.40 680.83h-3.5M31.70 678.41h3.5M299.40 678.41h-3.5M31.70 676.37h3.5M299.40 676.37h-3.5M31.70 674.60h3.5M299.40 674.60h-3.5M31.70 673.04h3.5M299.40 673.04h-3.5M31.70 662.47h3.5M299.40 662.47h-3.5M31.70 657.11h3.5M299.40 657.11h-3.5M31.70 653.30h3.5M299.40 653.30h-3.5M31.70 650.34h3.5M299.40 650.34h-3.5M31.70 647.93h3.5M299.40 647.93h-3.5M31.70 645.89h3.5M299.40 645.89h-3.5M31.70 644.12h3.5M299.40 644.12h-3.5M31.70 642.56h3.5M299.40 642.56h-3.5M31.70 631.99h3.5M299.40 631.99h-3.5M31.70 626.62h3.5M299.40 626.62h-3.5M31.70 622.81h3.5M299.40 622.81h-3.5M31.70 619.86h3.5M299.40 619.86h-3.5M31.70 617.45h3.5M299.40 617.45h-3.5M31.70 615.41h3.5M299.40 615.41h-3.5M31.70 613.64h3.5M299.40 613.64h-3.5M31.70 612.08h3.5M299.40 612.08h-3.5M31.70 601.51h3.5M299.40 601.51h-3.5M31.70 596.14h3.5M299.40 596.14h-3.5M31.70 592.33h3.5M299.40 592.33h-3.5M31.70 589.38h3.5M299.40 589.38h-3.5M31.70 586.96h3.5M299.40 586.96h-3.5M31.70 584.92h3.5M299.40 584.92h-3.5M31.70 583.15h3.5M299.40 583.15h-3.5M31.70 581.59h3.5M299.40 581.59h-3.5M31.70 571.02h3.5M299.40 571.02h-3.5M31.70 565.66h3.5M299.40 565.66h-3.5M31.70 561.85h3.5M299.40 561.85h-3.5" stroke="#000" stroke-width="1.0" fill="none"/>
<path d="M49.60 774.80v-5.5M49.60 560.90v5.5M85.29 774.80v-5.5M85.29 560.90v5.5M120.97 774.80v-5.5M120.97 560.90v5.5M156.66 774.80v-5.5M156.66 560.90v5.5M192.34 774.80v-5.5M192.34 560.90v5.5M228.03 774.80v-5.5M228.03 560.90v5.5M263.71 774.80v-5.5M263.71 560.90v5.5M31.70 763.10h5.5M299.40 763.10h-5.5M31.70 732.62h5.5M299.40 732.62h-5.5M31.70 702.13h5.5M299.40 702.13h-5.5M31.70 671.65h5.5M299.40 671.65h-5.5M31.70 641.17h5.5M299.40 641.17h-5.5M31.70 610.68h5.5M299.40 610.68h-5.5M31.70 580.20h5.5M299.40 580.20h-5.5" stroke="#000" stroke-width="1.35" fill="none"/>
<rect x="31.7" y="560.9" width="267.70" height="213.90" stroke="#000" stroke-width="1.4" fill="none"/>
<text x="49.60" y="784.30" font-size="9.1" text-anchor="middle" fill="#222">8</text>
<text x="49.60" y="558.40" font-size="9.4" text-anchor="middle" fill="#222">8</text>
<text x="85.29" y="784.30" font-size="9.1" text-anchor="middle" fill="#222">10</text>
<text x="85.29" y="558.40" font-size="9.4" text-anchor="middle" fill="#222">10</text>
<text x="120.97" y="784.30" font-size="9.1" text-anchor="middle" fill="#222">12</text>
<text x="120.97" y="558.40" font-size="9.4" text-anchor="middle" fill="#222">12</text>
<text x="156.66" y="784.30" font-size="9.1" text-anchor="middle" fill="#222">14</text>
<text x="156.66" y="558.40" font-size="9.4" text-anchor="middle" fill="#222">14</text>
<text x="192.34" y="784.30" font-size="9.1" text-anchor="middle" fill="#222">16</text>
<text x="192.34" y="558.40" font-size="9.4" text-anchor="middle" fill="#222">16</text>
<text x="228.03" y="784.30" font-size="9.1" text-anchor="middle" fill="#222">18</text>
<text x="228.03" y="558.40" font-size="9.4" text-anchor="middle" fill="#222">18</text>
<text x="263.71" y="784.30" font-size="9.1" text-anchor="middle" fill="#222">20</text>
<text x="263.71" y="558.40" font-size="9.4" text-anchor="middle" fill="#222">20</text>
<text x="299.40" y="784.30" font-size="9.1" text-anchor="middle" fill="#222">22</text>
<text x="299.40" y="558.40" font-size="9.4" text-anchor="middle" fill="#222">22</text>
<text transform="translate(24.85,766.20) scale(1,1.07)" font-size="8.8" text-anchor="end" fill="#222">10</text>
<text x="25.05" y="761.60" font-size="6.2" fill="#222">1</text>
<text transform="translate(303.30,766.20) scale(1,1.07)" font-size="8.8" fill="#222">10</text>
<text x="313.29" y="761.60" font-size="6.2" fill="#222">1</text>
<text transform="translate(24.85,735.72) scale(1,1.07)" font-size="8.8" text-anchor="end" fill="#222">10</text>
<text x="25.05" y="731.12" font-size="6.2" fill="#222">2</text>
<text transform="translate(303.30,735.72) scale(1,1.07)" font-size="8.8" fill="#222">10</text>
<text x="313.29" y="731.12" font-size="6.2" fill="#222">2</text>
<text transform="translate(24.85,705.23) scale(1,1.07)" font-size="8.8" text-anchor="end" fill="#222">10</text>
<text x="25.05" y="700.63" font-size="6.2" fill="#222">3</text>
<text transform="translate(303.30,705.23) scale(1,1.07)" font-size="8.8" fill="#222">10</text>
<text x="313.29" y="700.63" font-size="6.2" fill="#222">3</text>
<text transform="translate(24.85,674.75) scale(1,1.07)" font-size="8.8" text-anchor="end" fill="#222">10</text>
<text x="25.05" y="670.15" font-size="6.2" fill="#222">4</text>
<text transform="translate(303.30,674.75) scale(1,1.07)" font-size="8.8" fill="#222">10</text>
<text x="313.29" y="670.15" font-size="6.2" fill="#222">4</text>
<text transform="translate(24.85,644.27) scale(1,1.07)" font-size="8.8" text-anchor="end" fill="#222">10</text>
<text x="25.05" y="639.67" font-size="6.2" fill="#222">5</text>
<text transform="translate(303.30,644.27) scale(1,1.07)" font-size="8.8" fill="#222">10</text>
<text x="313.29" y="639.67" font-size="6.2" fill="#222">5</text>
<text transform="translate(24.85,613.78) scale(1,1.07)" font-size="8.8" text-anchor="end" fill="#222">10</text>
<text x="25.05" y="609.18" font-size="6.2" fill="#222">6</text>
<text transform="translate(303.30,613.78) scale(1,1.07)" font-size="8.8" fill="#222">10</text>
<text x="313.29" y="609.18" font-size="6.2" fill="#222">6</text>
<text transform="translate(24.85,583.30) scale(1,1.07)" font-size="8.8" text-anchor="end" fill="#222">10</text>
<text x="25.05" y="578.70" font-size="6.2" fill="#222">7</text>
<text transform="translate(303.30,583.30) scale(1,1.07)" font-size="8.8" fill="#222">10</text>
<text x="313.29" y="578.70" font-size="6.2" fill="#222">7</text>
<text transform="translate(9.0,668) rotate(-90)" font-size="9.9" font-weight="bold" text-anchor="middle" textLength="19.2" lengthAdjust="spacingAndGlyphs" fill="#111">PDF</text>
<text x="166" y="795.3" font-size="9.4" font-weight="bold" text-anchor="middle" fill="#111">Radius [&#956;m]</text>
<path d="M390.84 774.80v-3.5M390.84 555.80v3.5M403.13 774.80v-3.5M403.13 555.80v3.5M415.41 774.80v-3.5M415.41 555.80v3.5M439.99 774.80v-3.5M439.99 555.80v3.5M452.27 774.80v-3.5M452.27 555.80v3.5M464.56 774.80v-3.5M464.56 555.80v3.5M476.85 774.80v-3.5M476.85 555.80v3.5M501.42 774.80v-3.5M501.42 555.80v3.5M513.71 774.80v-3.5M513.71 555.80v3.5M525.99 774.80v-3.5M525.99 555.80v3.5M538.28 774.80v-3.5M538.28 555.80v3.5M562.85 774.80v-3.5M562.85 555.80v3.5M575.14 774.80v-3.5M575.14 555.80v3.5M587.43 774.80v-3.5M587.43 555.80v3.5M599.71 774.80v-3.5M599.71 555.80v3.5M624.29 774.80v-3.5M624.29 555.80v3.5M636.57 774.80v-3.5M636.57 555.80v3.5M378.50 771.19h3.5M648.80 771.19h-3.5M378.50 766.81h3.5M648.80 766.81h-3.5M378.50 763.70h3.5M648.80 763.70h-3.5M378.50 761.29h3.5M648.80 761.29h-3.5M378.50 759.32h3.5M648.80 759.32h-3.5M378.50 757.65h3.5M648.80 757.65h-3.5M378.50 756.21h3.5M648.80 756.21h-3.5M378.50 754.94h3.5M648.80 754.94h-3.5M378.50 746.31h3.5M648.80 746.31h-3.5M378.50 741.93h3.5M648.80 741.93h-3.5M378.50 738.82h3.5M648.80 738.82h-3.5M378.50 736.41h3.5M648.80 736.41h-3.5M378.50 734.44h3.5M648.80 734.44h-3.5M378.50 732.77h3.5M648.80 732.77h-3.5M378.50 731.33h3.5M648.80 731.33h-3.5M378.50 730.05h3.5M648.80 730.05h-3.5M378.50 721.42h3.5M648.80 721.42h-3.5M378.50 717.04h3.5M648.80 717.04h-3.5M378.50 713.93h3.5M648.80 713.93h-3.5M378.50 711.52h3.5M648.80 711.52h-3.5M378.50 709.55h3.5M648.80 709.55h-3.5M378.50 707.88h3.5M648.80 707.88h-3.5M378.50 706.44h3.5M648.80 706.44h-3.5M378.50 705.17h3.5M648.80 705.17h-3.5M378.50 696.54h3.5M648.80 696.54h-3.5M378.50 692.16h3.5M648.80 692.16h-3.5M378.50 689.05h3.5M648.80 689.05h-3.5M378.50 686.63h3.5M648.80 686.63h-3.5M378.50 684.66h3.5M648.80 684.66h-3.5M378.50 683.00h3.5M648.80 683.00h-3.5M378.50 681.55h3.5M648.80 681.55h-3.5M378.50 680.28h3.5M648.80 680.28h-3.5M378.50 671.65h3.5M648.80 671.65h-3.5M378.50 667.27h3.5M648.80 667.27h-3.5M378.50 664.16h3.5M648.80 664.16h-3.5M378.50 661.75h3.5M648.80 661.75h-3.5M378.50 659.78h3.5M648.80 659.78h-3.5M378.50 658.11h3.5M648.80 658.11h-3.5M378.50 656.67h3.5M648.80 656.67h-3.5M378.50 655.40h3.5M648.80 655.40h-3.5M378.50 646.77h3.5M648.80 646.77h-3.5M378.50 642.38h3.5M648.80 642.38h-3.5M378.50 639.27h3.5M648.80 639.27h-3.5M378.50 636.86h3.5M648.80 636.86h-3.5M378.50 634.89h3.5M648.80 634.89h-3.5M378.50 633.23h3.5M648.80 633.23h-3.5M378.50 631.78h3.5M648.80 631.78h-3.5M378.50 630.51h3.5M648.80 630.51h-3.5M378.50 621.88h3.5M648.80 621.88h-3.5M378.50 617.50h3.5M648.80 617.50h-3.5M378.50 614.39h3.5M648.80 614.39h-3.5M378.50 611.98h3.5M648.80 611.98h-3.5M378.50 610.01h3.5M648.80 610.01h-3.5M378.50 608.34h3.5M648.80 608.34h-3.5M378.50 606.90h3.5M648.80 606.90h-3.5M378.50 605.62h3.5M648.80 605.62h-3.5M378.50 596.99h3.5M648.80 596.99h-3.5M378.50 592.61h3.5M648.80 592.61h-3.5M378.50 589.50h3.5M648.80 589.50h-3.5M378.50 587.09h3.5M648.80 587.09h-3.5M378.50 585.12h3.5M648.80 585.12h-3.5M378.50 583.45h3.5M648.80 583.45h-3.5M378.50 582.01h3.5M648.80 582.01h-3.5M378.50 580.74h3.5M648.80 580.74h-3.5M378.50 572.11h3.5M648.80 572.11h-3.5M378.50 567.73h3.5M648.80 567.73h-3.5M378.50 564.62h3.5M648.80 564.62h-3.5M378.50 562.21h3.5M648.80 562.21h-3.5M378.50 560.24h3.5M648.80 560.24h-3.5M378.50 558.57h3.5M648.80 558.57h-3.5M378.50 557.13h3.5M648.80 557.13h-3.5" stroke="#000" stroke-width="1.0" fill="none"/>
<path d="M427.70 774.80v-5.5M427.70 555.80v5.5M489.13 774.80v-5.5M489.13 555.80v5.5M550.57 774.80v-5.5M550.57 555.80v5.5M612.00 774.80v-5.5M612.00 555.80v5.5M378.50 753.80h5.5M648.80 753.80h-5.5M378.50 728.91h5.5M648.80 728.91h-5.5M378.50 704.03h5.5M648.80 704.03h-5.5M378.50 679.14h5.5M648.80 679.14h-5.5M378.50 654.26h5.5M648.80 654.26h-5.5M378.50 629.37h5.5M648.80 629.37h-5.5M378.50 604.49h5.5M648.80 604.49h-5.5M378.50 579.60h5.5M648.80 579.60h-5.5" stroke="#000" stroke-width="1.35" fill="none"/>
<rect x="378.5" y="555.8" width="270.30" height="219.00" stroke="#000" stroke-width="1.4" fill="none"/>
<text x="427.70" y="784.30" font-size="9.1" text-anchor="middle" fill="#222">-15</text>
<text x="427.70" y="553.30" font-size="9.4" text-anchor="middle" fill="#222">-15</text>
<text x="489.13" y="784.30" font-size="9.1" text-anchor="middle" fill="#222">-10</text>
<text x="489.13" y="553.30" font-size="9.4" text-anchor="middle" fill="#222">-10</text>
<text x="550.57" y="784.30" font-size="9.1" text-anchor="middle" fill="#222">-5</text>
<text x="550.57" y="553.30" font-size="9.4" text-anchor="middle" fill="#222">-5</text>
<text x="612.00" y="784.30" font-size="9.1" text-anchor="middle" fill="#222">0</text>
<text x="612.00" y="553.30" font-size="9.4" text-anchor="middle" fill="#222">0</text>
<text transform="translate(369.59,756.90) scale(1,1.07)" font-size="8.8" text-anchor="end" fill="#222">10</text>
<text x="369.79" y="752.30" font-size="6.2" fill="#222">-1</text>
<text transform="translate(652.70,756.90) scale(1,1.07)" font-size="8.8" fill="#222">10</text>
<text x="662.69" y="752.30" font-size="6.2" fill="#222">-1</text>
<text transform="translate(371.65,732.01) scale(1,1.07)" font-size="8.8" text-anchor="end" fill="#222">10</text>
<text x="371.85" y="727.41" font-size="6.2" fill="#222">0</text>
<text transform="translate(652.70,732.01) scale(1,1.07)" font-size="8.8" fill="#222">10</text>
<text x="662.69" y="727.41" font-size="6.2" fill="#222">0</text>
<text transform="translate(371.65,707.13) scale(1,1.07)" font-size="8.8" text-anchor="end" fill="#222">10</text>
<text x="371.85" y="702.53" font-size="6.2" fill="#222">1</text>
<text transform="translate(652.70,707.13) scale(1,1.07)" font-size="8.8" fill="#222">10</text>
<text x="662.69" y="702.53" font-size="6.2" fill="#222">1</text>
<text transform="translate(371.65,682.24) scale(1,1.07)" font-size="8.8" text-anchor="end" fill="#222">10</text>
<text x="371.85" y="677.64" font-size="6.2" fill="#222">2</text>
<text transform="translate(652.70,682.24) scale(1,1.07)" font-size="8.8" fill="#222">10</text>
<text x="662.69" y="677.64" font-size="6.2" fill="#222">2</text>
<text transform="translate(371.65,657.36) scale(1,1.07)" font-size="8.8" text-anchor="end" fill="#222">10</text>
<text x="371.85" y="652.76" font-size="6.2" fill="#222">3</text>
<text transform="translate(652.70,657.36) scale(1,1.07)" font-size="8.8" fill="#222">10</text>
<text x="662.69" y="652.76" font-size="6.2" fill="#222">3</text>
<text transform="translate(371.65,632.47) scale(1,1.07)" font-size="8.8" text-anchor="end" fill="#222">10</text>
<text x="371.85" y="627.87" font-size="6.2" fill="#222">4</text>
<text transform="translate(652.70,632.47) scale(1,1.07)" font-size="8.8" fill="#222">10</text>
<text x="662.69" y="627.87" font-size="6.2" fill="#222">4</text>
<text transform="translate(371.65,607.59) scale(1,1.07)" font-size="8.8" text-anchor="end" fill="#222">10</text>
<text x="371.85" y="602.99" font-size="6.2" fill="#222">5</text>
<text transform="translate(652.70,607.59) scale(1,1.07)" font-size="8.8" fill="#222">10</text>
<text x="662.69" y="602.99" font-size="6.2" fill="#222">5</text>
<text transform="translate(371.65,582.70) scale(1,1.07)" font-size="8.8" text-anchor="end" fill="#222">10</text>
<text x="371.85" y="578.10" font-size="6.2" fill="#222">6</text>
<text transform="translate(652.70,582.70) scale(1,1.07)" font-size="8.8" fill="#222">10</text>
<text x="662.69" y="578.10" font-size="6.2" fill="#222">6</text>
<text transform="translate(355.2,665.5) rotate(-90)" font-size="9.9" font-weight="bold" text-anchor="middle" textLength="19.2" lengthAdjust="spacingAndGlyphs" fill="#111">PDF</text>
<text x="514.4" y="797.6" font-size="9.4" font-weight="bold" text-anchor="middle" fill="#111">Supersaturation [ % ]</text>
</svg>
</body></html>
